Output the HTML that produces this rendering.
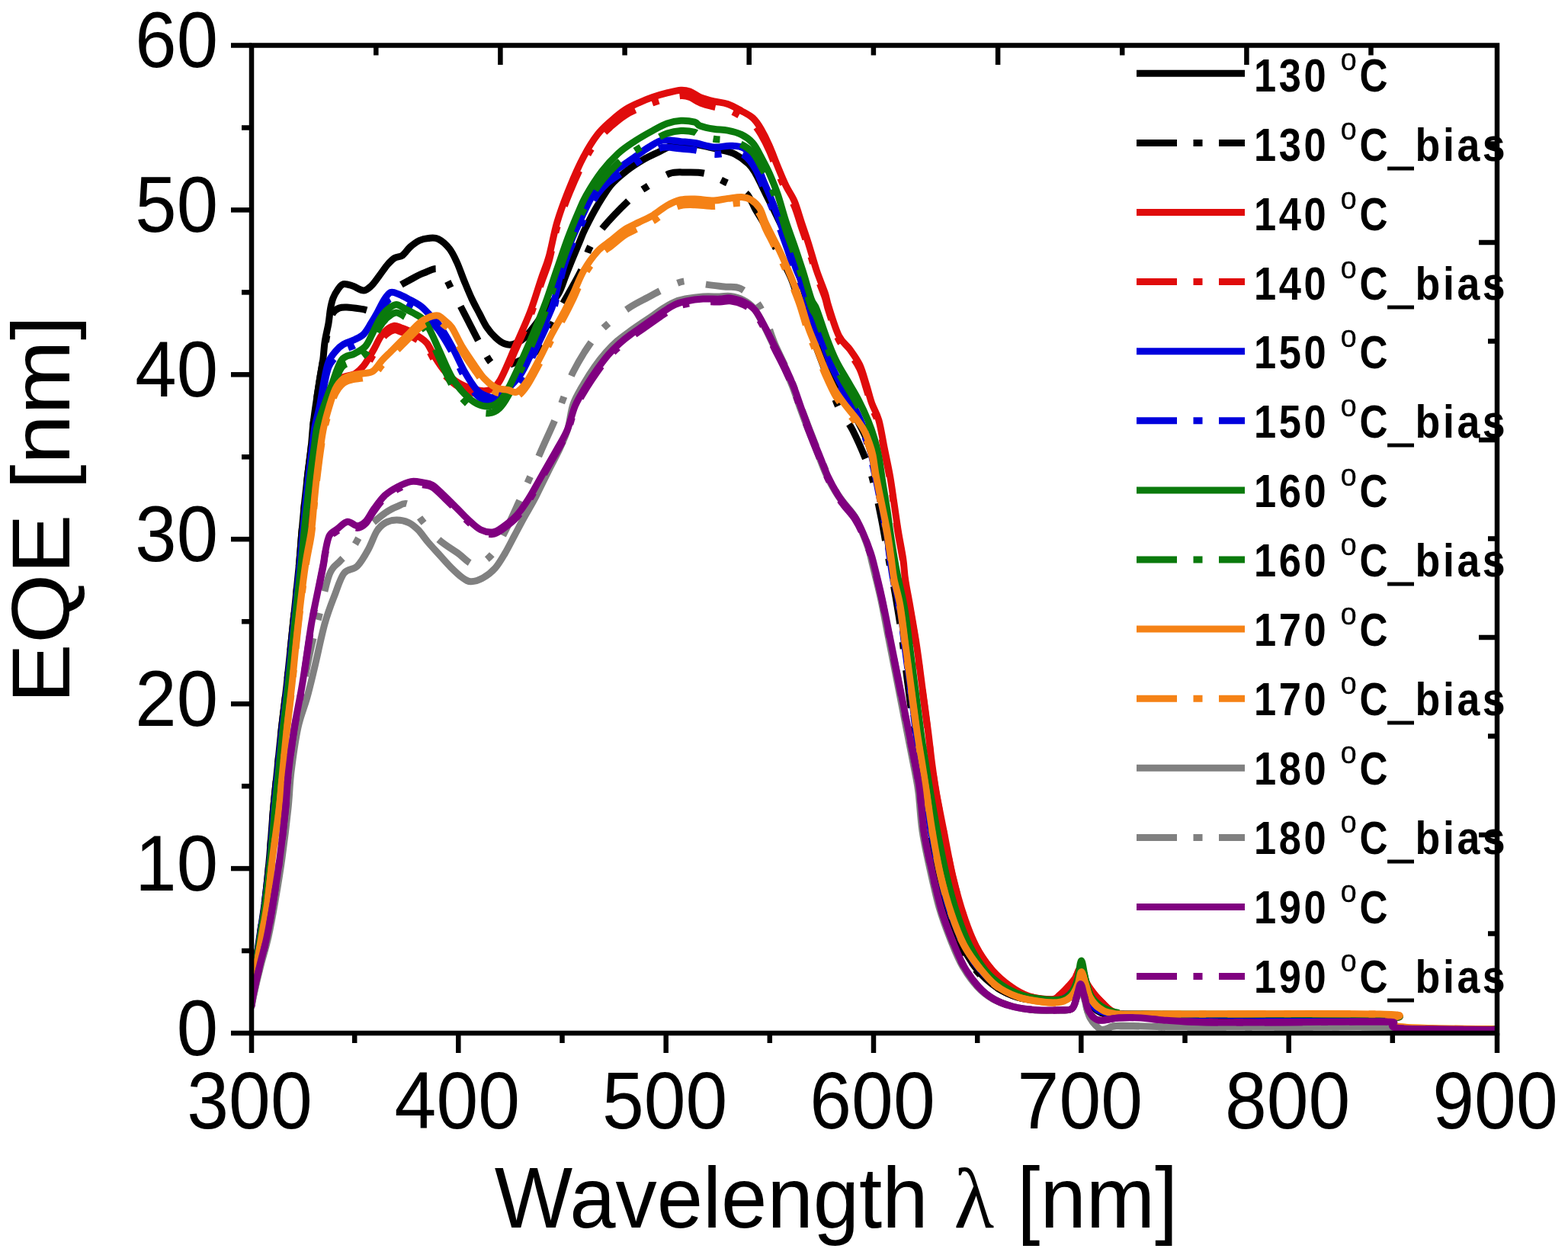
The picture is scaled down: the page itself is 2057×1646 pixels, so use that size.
<!DOCTYPE html>
<html><head><meta charset="utf-8"><title>EQE vs Wavelength</title>
<style>html,body{margin:0;padding:0;background:#fff;overflow:hidden}svg{display:block}</style>
</head><body>
<svg width="2057" height="1646" viewBox="0 0 2057 1646" font-family="'Liberation Sans', Arial, sans-serif">
<rect width="2057" height="1646" fill="#fff"/>
<defs><clipPath id="pa"><rect x="330.0" y="59.5" width="1634.0" height="1295.5"/></clipPath></defs>
<g id="curves" clip-path="url(#pa)" fill="none" stroke-linejoin="round" stroke-linecap="round"><path d="M330.0,1288.0 C330.8,1284.3 333.2,1275.8 335.0,1266.0 C336.8,1256.2 338.4,1243.0 340.5,1229.0 C342.6,1215.0 345.3,1199.3 347.5,1182.0 C349.7,1164.7 351.7,1145.0 353.5,1125.0 C355.3,1105.0 356.8,1080.8 358.5,1062.0 C360.2,1043.2 361.7,1030.0 363.5,1012.0 C365.3,994.0 367.3,973.5 369.5,954.0 C371.7,934.5 374.0,917.7 376.5,895.0 C379.0,872.3 381.8,843.8 384.5,818.0 C387.2,792.2 390.6,760.2 392.5,740.0 C394.4,719.8 394.8,710.3 396.0,697.0 C397.2,683.7 398.2,672.2 399.5,660.0 C400.8,647.8 402.1,636.0 403.5,624.0 C404.9,612.0 406.8,598.7 408.0,588.0 C409.2,577.3 409.5,569.2 410.5,560.0 C411.5,550.8 412.5,543.5 414.0,533.0 C415.5,522.5 417.9,507.2 419.5,497.0 C421.1,486.8 422.6,480.2 423.7,472.0 C424.8,463.8 425.0,456.0 426.2,448.0 C427.4,440.0 429.8,431.2 431.0,424.0 C432.2,416.8 432.5,410.5 433.5,405.0 C434.5,399.5 435.4,395.2 437.0,391.0 C438.6,386.8 440.8,383.1 443.0,380.0 C445.2,376.9 447.2,373.4 450.5,372.6 C453.8,371.8 458.2,373.6 462.6,375.0 C467.0,376.4 472.9,381.0 477.0,381.0 C481.1,381.0 483.7,378.0 487.0,375.0 C490.3,372.0 493.2,367.5 496.6,363.0 C500.0,358.5 504.2,352.1 507.6,348.0 C511.1,343.9 513.9,340.8 517.3,338.6 C520.7,336.4 524.5,337.4 528.0,335.0 C531.5,332.6 534.3,327.2 538.0,324.0 C541.7,320.8 546.0,317.4 550.0,315.5 C554.0,313.6 557.8,312.8 562.0,312.5 C566.2,312.2 570.4,311.2 575.0,313.5 C579.6,315.8 585.4,320.9 589.5,326.0 C593.6,331.1 596.1,336.8 599.4,344.0 C602.7,351.2 605.9,361.0 609.2,369.0 C612.5,377.0 615.7,384.9 619.0,392.0 C622.3,399.1 625.7,405.1 629.0,411.4 C632.3,417.6 635.3,424.3 638.8,429.5 C642.3,434.7 646.2,439.1 650.0,442.6 C653.8,446.2 657.9,449.3 661.7,450.8 C665.5,452.3 668.6,452.9 673.0,451.6 C677.4,450.3 683.0,447.4 688.0,443.0 C693.0,438.6 698.0,431.5 703.0,425.0 C708.0,418.5 713.0,410.7 718.0,404.0 C723.0,397.3 728.9,391.7 732.9,384.7 C736.9,377.7 739.0,369.6 742.0,362.0 C745.0,354.4 748.2,346.3 751.2,339.0 C754.2,331.7 757.3,324.4 760.0,318.0 C762.7,311.6 763.4,308.6 767.4,300.5 C771.4,292.4 778.0,279.3 783.8,269.6 C789.6,259.9 795.6,249.8 802.0,242.2 C808.4,234.6 815.1,229.5 822.1,224.0 C829.1,218.5 836.7,213.7 844.0,209.4 C851.3,205.1 859.2,201.8 865.9,198.4 C872.6,195.1 879.5,191.1 884.1,189.3 C888.7,187.5 888.9,187.6 893.2,187.5 C897.5,187.4 903.9,188.1 910.0,189.0 C916.1,189.9 924.1,191.7 930.0,193.0 C935.9,194.3 940.0,195.1 945.6,196.6 C951.2,198.1 957.7,199.0 963.8,202.1 C969.9,205.2 977.4,210.7 982.0,214.9 C986.6,219.2 988.2,222.6 991.2,227.6 C994.2,232.6 997.0,238.9 1000.0,245.0 C1003.0,251.1 1006.3,257.9 1009.4,264.1 C1012.5,270.3 1014.9,274.7 1018.5,282.3 C1022.1,289.9 1027.6,300.6 1031.3,309.7 C1035.0,318.8 1037.4,327.9 1040.4,337.0 C1043.4,346.1 1047.1,356.8 1049.5,364.4 C1051.9,372.0 1052.9,375.0 1055.0,382.6 C1057.1,390.2 1058.8,399.4 1062.0,410.0 C1065.2,420.6 1069.8,434.3 1074.0,446.0 C1078.2,457.7 1082.5,469.3 1087.0,480.0 C1091.5,490.7 1096.7,501.7 1101.0,510.0 C1105.3,518.3 1109.0,523.0 1113.0,530.0 C1117.0,537.0 1121.2,544.7 1125.0,552.0 C1128.8,559.3 1132.7,566.0 1136.0,574.0 C1139.3,582.0 1142.3,590.3 1145.0,600.0 C1147.7,609.7 1149.8,620.7 1152.0,632.0 C1154.2,643.3 1156.0,656.0 1158.0,668.0 C1160.0,680.0 1162.2,692.0 1164.0,704.0 C1165.8,716.0 1167.3,730.3 1169.0,740.0 C1170.7,749.7 1171.8,752.0 1174.0,762.0 C1176.2,772.0 1179.5,785.0 1182.0,800.0 C1184.5,815.0 1186.7,834.3 1189.0,852.0 C1191.3,869.7 1193.7,888.0 1196.0,906.0 C1198.3,924.0 1200.7,943.3 1203.0,960.0 C1205.3,976.7 1207.8,992.3 1210.0,1006.0 C1212.2,1019.7 1213.7,1027.7 1216.0,1042.0 C1218.3,1056.3 1221.3,1074.0 1224.0,1092.0 C1226.7,1110.0 1228.3,1132.0 1232.0,1150.0 C1235.7,1168.0 1241.0,1185.0 1246.0,1200.0 C1251.0,1215.0 1256.0,1228.0 1262.0,1240.0 C1268.0,1252.0 1274.7,1263.0 1282.0,1272.0 C1289.3,1281.0 1297.2,1288.0 1306.0,1294.0 C1314.8,1300.0 1324.3,1304.8 1335.0,1308.0 C1345.7,1311.2 1360.0,1312.3 1370.0,1313.0 C1380.0,1313.7 1388.3,1314.2 1395.0,1312.0 C1401.7,1309.8 1406.2,1305.3 1410.0,1300.0 C1413.8,1294.7 1415.5,1280.0 1418.0,1280.0 C1420.5,1280.0 1422.7,1293.7 1425.0,1300.0 C1427.3,1306.3 1427.8,1313.0 1432.0,1318.0 C1436.2,1323.0 1438.7,1327.5 1450.0,1330.0 C1461.3,1332.5 1466.7,1332.3 1500.0,1333.0 C1533.3,1333.7 1598.3,1333.8 1650.0,1334.0 C1701.7,1334.2 1780.8,1333.0 1810.0,1334.0 C1839.2,1335.0 1819.7,1337.5 1825.0,1340.0 C1830.3,1342.5 1818.8,1347.3 1842.0,1349.0 C1865.2,1350.7 1943.7,1349.8 1964.0,1350.0" stroke="#000000" stroke-width="9"/><path d="M330.0,1288.0 C330.8,1284.3 333.2,1275.8 335.0,1266.0 C336.8,1256.2 338.4,1243.0 340.5,1229.0 C342.6,1215.0 345.3,1199.3 347.5,1182.0 C349.7,1164.7 351.7,1145.0 353.5,1125.0 C355.3,1105.0 356.8,1080.8 358.5,1062.0 C360.2,1043.2 361.7,1030.0 363.5,1012.0 C365.3,994.0 367.3,973.5 369.5,954.0 C371.7,934.5 374.0,917.7 376.5,895.0 C379.0,872.3 381.8,843.8 384.5,818.0 C387.2,792.2 390.6,760.2 392.5,740.0 C394.4,719.8 394.8,710.3 396.0,697.0 C397.2,683.7 398.2,672.2 399.5,660.0 C400.8,647.8 402.1,636.0 403.5,624.0 C404.9,612.0 406.8,598.7 408.0,588.0 C409.2,577.3 409.5,569.2 410.5,560.0 C411.5,550.8 412.5,543.5 414.0,533.0 C415.5,522.5 417.8,507.5 419.5,497.0 C421.2,486.5 422.6,478.7 424.0,470.0 C425.4,461.3 426.7,452.5 428.0,445.0 C429.3,437.5 430.5,430.8 432.0,425.0 C433.5,419.2 434.8,413.5 437.0,410.0 C439.2,406.5 442.0,405.2 445.0,404.0 C448.0,402.8 450.0,402.8 455.0,403.0 C460.0,403.2 468.7,404.5 475.0,405.4 C481.3,406.3 488.0,410.2 493.0,408.5 C498.0,406.8 500.5,400.1 505.0,395.0 C509.5,389.9 514.7,382.5 520.0,378.0 C525.3,373.5 530.7,371.1 536.7,367.8 C542.7,364.5 549.3,360.3 556.0,358.0 C562.7,355.7 570.6,349.8 577.0,354.0 C583.4,358.2 589.1,373.9 594.5,383.5 C599.9,393.1 603.2,399.9 609.2,411.4 C615.2,422.9 624.5,441.5 630.5,452.4 C636.5,463.3 640.7,472.2 645.3,477.0 C649.9,481.8 653.5,481.0 658.0,481.0 C662.5,481.0 667.0,478.8 672.0,477.0 C677.0,475.2 682.8,472.7 688.0,470.0 C693.2,467.3 697.3,467.7 703.0,461.0 C708.7,454.3 716.5,439.7 722.0,430.0 C727.5,420.3 729.0,415.4 735.7,403.0 C742.4,390.6 755.8,368.3 762.0,355.5 C768.2,342.7 768.5,335.2 773.0,326.0 C777.5,316.8 780.2,311.4 789.3,300.5 C798.4,289.6 817.0,270.1 827.6,260.4 C838.2,250.7 844.5,247.7 853.0,242.2 C861.5,236.7 870.8,230.3 878.6,227.6 C886.4,224.9 892.2,226.0 900.0,226.0 C907.8,226.0 917.0,225.5 925.5,227.6 C934.0,229.7 942.2,234.3 951.0,238.6 C959.8,242.8 971.7,247.0 978.4,253.1 C985.1,259.2 987.1,268.0 991.2,275.0 C995.3,282.0 998.9,287.2 1003.0,295.0 C1007.1,302.8 1010.4,310.8 1016.0,322.0 C1021.6,333.2 1031.0,349.5 1036.7,362.5 C1042.4,375.5 1045.3,387.1 1050.0,400.0 C1054.7,412.9 1059.7,425.8 1065.0,440.0 C1070.3,454.2 1076.1,469.2 1082.0,485.0 C1087.9,500.8 1094.3,521.8 1100.4,535.0 C1106.5,548.2 1112.0,551.2 1118.5,564.0 C1125.0,576.8 1134.5,598.7 1139.5,612.0 C1144.5,625.3 1145.7,632.8 1148.4,644.0 C1151.2,655.2 1153.7,667.7 1156.0,679.0 C1158.3,690.3 1160.0,701.0 1162.0,712.0 C1164.0,723.0 1165.9,733.7 1168.0,745.0 C1170.1,756.3 1172.1,765.8 1174.5,780.0 C1176.9,794.2 1179.9,811.7 1182.5,830.0 C1185.1,848.3 1187.4,870.0 1190.0,890.0 C1192.6,910.0 1195.4,931.7 1198.0,950.0 C1200.6,968.3 1203.2,985.0 1205.5,1000.0 C1207.8,1015.0 1209.9,1025.0 1212.0,1040.0 C1214.1,1055.0 1215.0,1071.7 1218.0,1090.0 C1221.0,1108.3 1225.7,1131.7 1230.0,1150.0 C1234.3,1168.3 1239.0,1185.0 1244.0,1200.0 C1249.0,1215.0 1254.0,1228.0 1260.0,1240.0 C1266.0,1252.0 1272.5,1263.0 1280.0,1272.0 C1287.5,1281.0 1295.8,1288.0 1305.0,1294.0 C1314.2,1300.0 1324.2,1304.8 1335.0,1308.0 C1345.8,1311.2 1360.0,1312.3 1370.0,1313.0 C1380.0,1313.7 1388.3,1314.2 1395.0,1312.0 C1401.7,1309.8 1406.2,1305.0 1410.0,1300.0 C1413.8,1295.0 1415.5,1282.0 1418.0,1282.0 C1420.5,1282.0 1422.7,1294.0 1425.0,1300.0 C1427.3,1306.0 1427.8,1313.0 1432.0,1318.0 C1436.2,1323.0 1438.7,1327.3 1450.0,1330.0 C1461.3,1332.7 1466.7,1333.2 1500.0,1334.0 C1533.3,1334.8 1598.3,1334.8 1650.0,1335.0 C1701.7,1335.2 1780.8,1334.0 1810.0,1335.0 C1839.2,1336.0 1819.7,1338.7 1825.0,1341.0 C1830.3,1343.3 1818.8,1347.5 1842.0,1349.0 C1865.2,1350.5 1943.7,1349.8 1964.0,1350.0" stroke="#000000" stroke-width="9" stroke-dasharray="50 24 9 28" stroke-dashoffset="6" stroke-linecap="butt"/><path d="M330.0,1289.0 C331.0,1285.2 334.0,1276.0 336.0,1266.0 C338.0,1256.0 339.8,1243.0 342.0,1229.0 C344.2,1215.0 347.2,1199.3 349.5,1182.0 C351.8,1164.7 353.9,1145.0 356.0,1125.0 C358.1,1105.0 360.1,1080.8 362.0,1062.0 C363.9,1043.2 365.6,1030.0 367.5,1012.0 C369.4,994.0 371.3,973.5 373.5,954.0 C375.7,934.5 378.0,917.7 380.5,895.0 C383.0,872.3 385.8,843.8 388.5,818.0 C391.2,792.2 394.8,760.2 397.0,740.0 C399.2,719.8 400.5,710.3 402.0,697.0 C403.5,683.7 404.7,672.2 406.0,660.0 C407.3,647.8 408.5,636.0 410.0,624.0 C411.5,612.0 413.5,598.7 415.0,588.0 C416.5,577.3 417.3,569.2 419.0,560.0 C420.7,550.8 422.7,541.3 425.0,533.0 C427.3,524.7 429.7,516.0 433.0,510.0 C436.3,504.0 441.2,499.8 445.0,497.0 C448.8,494.2 452.5,494.2 456.0,493.0 C459.5,491.8 462.5,492.2 466.0,490.0 C469.5,487.8 473.3,484.6 477.2,479.6 C481.1,474.6 485.8,466.4 489.4,460.1 C493.0,453.8 496.1,446.5 499.1,441.9 C502.1,437.2 504.6,434.6 507.6,432.2 C510.6,429.8 514.3,427.7 517.3,427.3 C520.3,426.9 522.8,428.7 525.8,429.7 C528.8,430.7 531.5,431.4 535.5,433.4 C539.5,435.4 546.0,439.1 550.1,441.9 C554.2,444.7 556.7,445.8 560.0,450.0 C563.3,454.2 566.1,461.4 569.8,467.2 C573.5,473.0 577.3,479.5 582.0,485.0 C586.7,490.5 591.7,495.8 598.0,500.0 C604.3,504.2 613.0,508.0 620.0,510.0 C627.0,512.0 634.1,513.7 640.0,512.0 C645.9,510.3 649.1,509.8 655.2,500.0 C661.3,490.2 669.8,468.2 676.5,453.1 C683.2,438.0 689.8,424.0 695.4,409.4 C701.0,394.8 705.9,377.7 710.0,365.6 C714.1,353.5 716.5,349.4 720.0,337.0 C723.5,324.6 726.4,306.6 730.9,291.4 C735.4,276.2 741.5,260.2 747.3,245.9 C753.1,231.6 759.5,217.2 765.6,205.7 C771.7,194.1 777.7,184.5 783.8,176.6 C789.9,168.7 795.9,163.8 802.0,158.3 C808.1,152.8 814.2,147.8 820.3,143.8 C826.4,139.9 832.4,137.3 838.5,134.6 C844.6,131.8 850.6,129.4 856.7,127.3 C862.8,125.2 868.9,123.4 875.0,121.9 C881.1,120.4 888.2,118.5 893.2,118.2 C898.2,117.9 900.8,118.5 905.0,120.0 C909.2,121.5 913.0,125.2 918.2,127.3 C923.5,129.4 930.4,131.3 936.5,132.8 C942.6,134.3 948.6,134.4 954.7,136.5 C960.8,138.6 967.4,142.6 972.9,145.6 C978.4,148.6 983.2,150.8 987.5,154.7 C991.8,158.6 994.8,163.2 998.4,169.3 C1002.0,175.4 1005.8,183.0 1009.4,191.2 C1013.0,199.4 1016.6,209.7 1020.3,218.5 C1023.9,227.3 1027.6,236.4 1031.3,244.0 C1035.0,251.6 1038.9,256.2 1042.2,264.1 C1045.5,272.0 1048.3,282.3 1051.3,291.4 C1054.3,300.5 1057.1,308.2 1060.4,318.8 C1063.8,329.4 1067.8,344.3 1071.4,355.2 C1075.1,366.1 1079.7,376.6 1082.3,384.4 C1084.9,392.2 1084.0,392.7 1087.0,402.0 C1090.0,411.3 1095.7,430.8 1100.4,440.2 C1105.1,449.6 1110.4,452.0 1115.0,458.4 C1119.6,464.8 1124.1,470.6 1127.8,478.5 C1131.5,486.4 1134.2,497.4 1136.9,505.9 C1139.6,514.4 1141.1,521.8 1143.8,529.3 C1146.5,536.8 1150.2,541.5 1152.9,551.2 C1155.6,560.9 1157.8,575.5 1160.2,587.6 C1162.6,599.8 1165.4,612.0 1167.5,624.1 C1169.6,636.2 1171.2,648.4 1173.0,660.5 C1174.8,672.6 1176.4,684.8 1178.4,697.0 C1180.4,709.2 1183.3,723.0 1184.8,733.5 C1186.3,744.0 1186.1,749.8 1187.6,760.0 C1189.1,770.2 1191.2,779.8 1193.8,794.7 C1196.3,809.6 1200.2,831.2 1202.9,849.4 C1205.6,867.6 1207.8,885.9 1210.2,904.1 C1212.6,922.3 1215.4,942.1 1217.5,958.8 C1219.6,975.5 1221.2,990.9 1223.0,1004.4 C1224.8,1017.9 1225.9,1025.7 1228.4,1040.0 C1230.9,1054.3 1234.5,1071.7 1238.1,1090.1 C1241.7,1108.5 1245.8,1131.9 1250.2,1150.3 C1254.6,1168.7 1259.2,1185.4 1264.2,1200.4 C1269.2,1215.4 1274.2,1228.8 1280.2,1240.5 C1286.2,1252.2 1293.0,1261.9 1300.3,1270.6 C1307.6,1279.3 1315.9,1286.6 1324.3,1292.6 C1332.7,1298.6 1341.0,1303.7 1350.4,1306.7 C1359.8,1309.7 1373.8,1311.0 1380.5,1310.7 C1387.2,1310.4 1386.8,1307.7 1390.5,1304.7 C1394.2,1301.7 1399.2,1296.3 1402.5,1292.6 C1405.8,1288.9 1407.8,1286.7 1410.5,1282.6 C1413.2,1278.5 1416.2,1267.1 1418.6,1268.0 C1421.0,1268.9 1422.3,1282.2 1425.0,1288.0 C1427.7,1293.8 1431.5,1298.5 1435.0,1303.0 C1438.5,1307.5 1442.3,1311.3 1446.0,1315.0 C1449.7,1318.7 1452.7,1322.3 1457.0,1325.0 C1461.3,1327.7 1464.8,1329.8 1472.0,1331.0 C1479.2,1332.2 1443.7,1331.8 1500.0,1332.0 C1556.3,1332.2 1756.3,1331.0 1810.0,1332.0 C1863.7,1333.0 1817.0,1335.3 1822.0,1338.0 C1827.0,1340.7 1816.3,1346.0 1840.0,1348.0 C1863.7,1350.0 1943.3,1349.7 1964.0,1350.0" stroke="#e00c0c" stroke-width="9"/><path d="M330.0,1289.4 C331.0,1285.6 334.0,1276.5 336.0,1266.5 C338.0,1256.6 339.8,1243.7 342.0,1229.8 C344.2,1215.8 347.2,1200.3 349.5,1183.0 C351.8,1165.8 353.9,1146.3 356.0,1126.4 C358.1,1106.5 360.1,1082.5 362.0,1063.8 C363.9,1045.0 365.6,1032.0 367.5,1014.1 C369.4,996.2 371.3,975.8 373.5,956.4 C375.7,937.0 378.0,920.3 380.5,897.8 C383.0,875.2 385.8,846.9 388.5,821.2 C391.2,795.5 394.8,763.7 397.0,743.7 C399.2,723.6 400.5,714.2 402.0,700.9 C403.5,687.7 404.7,676.3 406.0,664.2 C407.3,652.1 408.5,640.3 410.0,628.4 C411.5,616.5 413.5,603.2 415.0,592.6 C416.5,582.0 417.3,573.9 419.0,564.8 C420.7,555.7 422.7,546.2 425.0,537.9 C427.3,529.6 429.7,521.0 433.0,515.1 C436.3,509.1 441.2,505.0 445.0,502.1 C448.8,499.3 452.5,499.3 456.0,498.2 C459.5,497.0 462.5,497.4 466.0,495.2 C469.5,493.0 473.3,489.8 477.2,484.9 C481.1,479.9 485.8,471.7 489.4,465.5 C493.0,459.2 496.1,452.0 499.1,447.4 C502.1,442.8 504.6,440.2 507.6,437.7 C510.6,435.3 514.3,433.3 517.3,432.9 C520.3,432.5 522.8,434.2 525.8,435.3 C528.8,436.3 531.5,436.9 535.5,438.9 C539.5,441.0 546.0,444.6 550.1,447.4 C554.2,450.1 556.7,451.2 560.0,455.4 C563.3,459.6 566.1,466.7 569.8,472.5 C573.5,478.3 577.3,484.8 582.0,490.2 C586.7,495.7 591.7,501.0 598.0,505.1 C604.3,509.3 613.0,513.1 620.0,515.1 C627.0,517.1 634.1,518.7 640.0,517.1 C645.9,515.4 649.1,514.9 655.2,505.1 C661.3,495.4 669.8,473.5 676.5,458.5 C683.2,443.5 689.8,429.6 695.4,415.1 C701.0,400.6 705.9,383.5 710.0,371.5 C714.1,359.5 716.5,355.4 720.0,343.1 C723.5,330.8 726.4,312.9 730.9,297.8 C735.4,282.7 741.5,266.8 747.3,252.6 C753.1,238.4 759.5,224.1 765.6,212.6 C771.7,201.1 777.7,191.5 783.8,183.7 C789.9,175.8 795.9,170.9 802.0,165.5 C808.1,160.0 814.2,155.0 820.3,151.1 C826.4,147.1 832.4,144.7 838.5,141.9 C844.6,139.2 850.6,136.8 856.7,134.7 C862.8,132.6 868.9,130.8 875.0,129.3 C881.1,127.8 888.2,125.9 893.2,125.6 C898.2,125.3 900.8,125.9 905.0,127.4 C909.2,128.9 913.0,132.5 918.2,134.7 C923.5,136.8 930.4,138.6 936.5,140.1 C942.6,141.7 948.6,141.7 954.7,143.8 C960.8,145.9 967.4,149.8 972.9,152.9 C978.4,155.9 983.2,158.0 987.5,161.9 C991.8,165.8 994.8,170.4 998.4,176.4 C1002.0,182.5 1005.8,190.0 1009.4,198.2 C1013.0,206.3 1016.6,216.6 1020.3,225.3 C1023.9,234.1 1027.6,243.1 1031.3,250.7 C1035.0,258.2 1038.9,262.8 1042.2,270.6 C1045.5,278.5 1048.3,288.7 1051.3,297.8 C1054.3,306.8 1057.1,314.4 1060.4,325.0 C1063.8,335.6 1067.8,350.3 1071.4,361.2 C1075.1,372.1 1079.7,382.5 1082.3,390.2 C1084.9,398.0 1084.0,398.5 1087.0,407.7 C1090.0,417.0 1095.7,436.3 1100.4,445.7 C1105.1,455.0 1110.4,457.4 1115.0,463.8 C1119.6,470.1 1124.1,475.9 1127.8,483.8 C1131.5,491.6 1134.2,502.6 1136.9,511.0 C1139.6,519.4 1141.1,526.7 1143.8,534.3 C1146.5,541.8 1150.2,546.4 1152.9,556.0 C1155.6,565.7 1157.8,580.1 1160.2,592.2 C1162.6,604.3 1165.4,616.4 1167.5,628.5 C1169.6,640.6 1171.2,652.6 1173.0,664.7 C1174.8,676.7 1176.4,688.9 1178.4,700.9 C1180.4,713.0 1183.3,726.8 1184.8,737.2 C1186.3,747.7 1186.1,753.4 1187.6,763.6 C1189.1,773.7 1191.2,783.3 1193.8,798.1 C1196.3,812.9 1200.2,834.3 1202.9,852.4 C1205.6,870.6 1207.8,888.7 1210.2,906.8 C1212.6,924.9 1215.4,944.6 1217.5,961.2 C1219.6,977.8 1221.2,993.1 1223.0,1006.5 C1224.8,1020.0 1225.9,1027.7 1228.4,1041.9 C1230.9,1056.1 1234.5,1073.4 1238.1,1091.7 C1241.7,1110.0 1245.8,1133.3 1250.2,1151.5 C1254.6,1169.8 1259.2,1186.4 1264.2,1201.3 C1269.2,1216.3 1274.2,1229.6 1280.2,1241.2 C1286.2,1252.8 1293.0,1262.5 1300.3,1271.1 C1307.6,1279.7 1315.9,1287.0 1324.3,1293.0 C1332.7,1299.0 1341.0,1304.0 1350.4,1307.0 C1359.8,1310.0 1373.8,1311.3 1380.5,1311.0 C1387.2,1310.6 1386.8,1308.0 1390.5,1305.0 C1394.2,1302.0 1399.2,1296.6 1402.5,1293.0 C1405.8,1289.3 1407.8,1287.1 1410.5,1283.0 C1413.2,1279.0 1416.2,1267.6 1418.6,1268.5 C1421.0,1269.4 1422.3,1282.6 1425.0,1288.4 C1427.7,1294.2 1431.5,1298.8 1435.0,1303.3 C1438.5,1307.8 1442.3,1311.6 1446.0,1315.2 C1449.7,1318.9 1452.7,1322.5 1457.0,1325.2 C1461.3,1327.8 1464.8,1330.0 1472.0,1331.1 C1479.2,1332.3 1443.7,1332.0 1500.0,1332.1 C1556.3,1332.3 1756.3,1331.1 1810.0,1332.1 C1863.7,1333.1 1817.0,1335.5 1822.0,1338.1 C1827.0,1340.8 1816.3,1346.1 1840.0,1348.0 C1863.7,1350.0 1943.3,1349.7 1964.0,1350.0" stroke="#e00c0c" stroke-width="9" stroke-dasharray="50 24 9 28" stroke-dashoffset="0" stroke-linecap="butt"/><path d="M330.0,1288.0 C330.9,1284.3 333.7,1275.8 335.5,1266.0 C337.3,1256.2 338.9,1243.0 341.0,1229.0 C343.1,1215.0 345.8,1199.3 348.0,1182.0 C350.2,1164.7 352.6,1145.0 354.5,1125.0 C356.4,1105.0 357.8,1080.8 359.5,1062.0 C361.2,1043.2 362.7,1030.0 364.5,1012.0 C366.3,994.0 368.3,973.5 370.5,954.0 C372.7,934.5 375.0,917.7 377.5,895.0 C380.0,872.3 382.8,843.8 385.5,818.0 C388.2,792.2 391.5,760.2 393.5,740.0 C395.5,719.8 396.2,710.3 397.5,697.0 C398.8,683.7 399.8,672.2 401.0,660.0 C402.2,647.8 403.6,636.0 405.0,624.0 C406.4,612.0 408.2,598.7 409.5,588.0 C410.8,577.3 411.4,569.2 413.0,560.0 C414.6,550.8 417.3,543.0 419.3,533.0 C421.3,523.0 423.1,509.7 425.0,500.0 C426.9,490.3 428.4,481.3 431.0,474.7 C433.6,468.1 437.6,464.0 440.8,460.1 C444.1,456.2 446.4,454.0 450.5,451.6 C454.6,449.2 460.7,447.7 465.1,445.5 C469.6,443.3 473.6,441.8 477.2,438.2 C480.8,434.6 483.9,428.5 486.9,423.7 C489.9,418.9 492.6,414.2 495.4,409.1 C498.2,404.0 501.1,397.6 503.9,393.3 C506.7,389.1 509.1,384.8 512.4,383.6 C515.6,382.4 519.1,384.4 523.4,386.0 C527.7,387.6 533.1,390.7 538.0,393.3 C542.9,395.9 548.5,398.8 552.5,401.8 C556.5,404.8 558.5,407.6 562.3,411.5 C566.0,415.4 569.9,417.9 575.0,425.0 C580.1,432.1 587.1,443.8 592.8,454.1 C598.5,464.4 603.7,477.3 609.2,486.9 C614.7,496.5 620.7,506.0 625.6,511.5 C630.5,517.0 634.4,518.1 638.8,519.7 C643.2,521.3 647.5,522.6 652.0,521.0 C656.5,519.4 660.7,515.2 666.0,510.0 C671.3,504.8 678.9,496.8 683.8,489.6 C688.7,482.4 691.8,474.3 695.5,466.7 C699.2,459.1 702.5,451.6 706.0,444.0 C709.5,436.4 713.0,429.4 716.5,421.2 C720.0,413.0 723.0,408.7 727.0,395.0 C731.0,381.3 735.0,356.3 740.5,339.0 C746.0,321.7 753.5,306.0 760.1,291.4 C766.7,276.8 774.1,261.3 780.2,251.3 C786.3,241.3 790.8,236.8 796.6,231.3 C802.4,225.8 808.7,222.8 814.8,218.5 C820.9,214.2 826.9,209.9 833.0,205.7 C839.1,201.4 845.2,196.6 851.3,193.0 C857.4,189.4 862.5,185.1 869.5,183.9 C876.5,182.7 886.2,185.1 893.2,185.7 C900.2,186.3 904.2,186.3 911.4,187.5 C918.6,188.7 928.7,192.4 936.5,193.0 C944.3,193.6 951.6,190.9 958.3,191.2 C965.0,191.5 971.1,191.2 976.6,194.8 C982.1,198.4 987.0,205.7 991.2,213.0 C995.5,220.3 998.5,230.1 1002.1,238.6 C1005.7,247.1 1009.4,255.0 1013.0,264.1 C1016.6,273.2 1020.6,284.2 1024.0,293.3 C1027.3,302.4 1029.8,309.1 1033.1,318.8 C1036.4,328.5 1040.7,342.5 1044.0,351.6 C1047.3,360.7 1050.4,365.4 1053.1,373.5 C1055.8,381.6 1058.6,394.6 1060.4,400.0 C1062.2,405.4 1061.3,398.6 1064.0,405.6 C1066.7,412.6 1072.5,430.1 1076.7,442.0 C1081.0,453.9 1084.9,466.1 1089.5,476.7 C1094.1,487.3 1099.8,498.0 1104.1,505.9 C1108.3,513.8 1111.3,517.6 1115.0,524.1 C1118.7,530.6 1122.5,537.4 1126.0,545.0 C1129.5,552.6 1133.0,560.8 1136.0,570.0 C1139.0,579.2 1141.5,589.7 1144.0,600.0 C1146.5,610.3 1148.7,620.7 1151.0,632.0 C1153.3,643.3 1155.8,656.2 1158.0,668.0 C1160.2,679.8 1162.2,691.3 1164.0,703.0 C1165.8,714.7 1167.5,728.2 1169.0,738.0 C1170.5,747.8 1171.0,751.7 1173.0,762.0 C1175.0,772.3 1178.5,785.0 1181.0,800.0 C1183.5,815.0 1185.7,834.3 1188.0,852.0 C1190.3,869.7 1192.7,888.0 1195.0,906.0 C1197.3,924.0 1199.7,943.3 1202.0,960.0 C1204.3,976.7 1206.8,992.3 1209.0,1006.0 C1211.2,1019.7 1212.8,1027.7 1215.0,1042.0 C1217.2,1056.3 1218.8,1074.0 1222.0,1092.0 C1225.2,1110.0 1229.7,1132.0 1234.0,1150.0 C1238.3,1168.0 1242.8,1185.0 1248.0,1200.0 C1253.2,1215.0 1258.8,1228.3 1265.0,1240.0 C1271.2,1251.7 1277.8,1261.3 1285.0,1270.0 C1292.2,1278.7 1299.5,1286.0 1308.0,1292.0 C1316.5,1298.0 1325.7,1302.7 1336.0,1306.0 C1346.3,1309.3 1360.2,1311.3 1370.0,1312.0 C1379.8,1312.7 1388.3,1312.7 1395.0,1310.0 C1401.7,1307.3 1406.2,1301.8 1410.0,1296.0 C1413.8,1290.2 1415.5,1274.7 1418.0,1275.0 C1420.5,1275.3 1422.7,1291.2 1425.0,1298.0 C1427.3,1304.8 1427.8,1311.0 1432.0,1316.0 C1436.2,1321.0 1438.7,1325.7 1450.0,1328.0 C1461.3,1330.3 1466.7,1329.3 1500.0,1330.0 C1533.3,1330.7 1598.3,1331.5 1650.0,1332.0 C1701.7,1332.5 1780.8,1331.7 1810.0,1333.0 C1839.2,1334.3 1819.7,1337.3 1825.0,1340.0 C1830.3,1342.7 1818.8,1347.3 1842.0,1349.0 C1865.2,1350.7 1943.7,1349.8 1964.0,1350.0" stroke="#0000dd" stroke-width="9"/><path d="M330.0,1288.5 C330.9,1284.9 333.7,1276.5 335.5,1266.7 C337.3,1257.0 338.9,1243.9 341.0,1230.0 C343.1,1216.1 345.8,1200.6 348.0,1183.4 C350.2,1166.2 352.6,1146.7 354.5,1126.8 C356.4,1107.0 357.8,1083.0 359.5,1064.3 C361.2,1045.7 362.7,1032.6 364.5,1014.7 C366.3,996.9 368.3,976.6 370.5,957.2 C372.7,937.9 375.0,921.2 377.5,898.7 C380.0,876.2 382.8,847.9 385.5,822.3 C388.2,796.7 391.5,764.9 393.5,744.9 C395.5,724.9 396.2,715.5 397.5,702.3 C398.8,689.0 399.8,677.6 401.0,665.6 C402.2,653.5 403.6,641.8 405.0,629.8 C406.4,617.9 408.2,604.7 409.5,594.1 C410.8,583.6 411.4,575.5 413.0,566.4 C414.6,557.3 417.3,549.5 419.3,539.6 C421.3,529.7 423.1,516.5 425.0,506.8 C426.9,497.2 428.4,488.3 431.0,481.7 C433.6,475.1 437.6,471.1 440.8,467.3 C444.1,463.4 446.4,461.2 450.5,458.8 C454.6,456.4 460.7,455.0 465.1,452.8 C469.6,450.6 473.6,449.1 477.2,445.5 C480.8,441.9 483.9,436.0 486.9,431.2 C489.9,426.3 492.6,421.7 495.4,416.7 C498.2,411.6 501.1,405.2 503.9,401.0 C506.7,396.8 509.1,392.6 512.4,391.4 C515.6,390.2 519.1,392.1 523.4,393.8 C527.7,395.4 533.1,398.4 538.0,401.0 C542.9,403.6 548.5,406.4 552.5,409.4 C556.5,412.4 558.5,415.2 562.3,419.0 C566.0,422.9 569.9,425.4 575.0,432.4 C580.1,439.5 587.1,451.1 592.8,461.3 C598.5,471.5 603.7,484.4 609.2,493.8 C614.7,503.3 620.7,512.8 625.6,518.2 C630.5,523.7 634.4,524.8 638.8,526.4 C643.2,528.0 647.5,529.3 652.0,527.7 C656.5,526.1 660.7,522.0 666.0,516.8 C671.3,511.6 678.9,503.7 683.8,496.5 C688.7,489.4 691.8,481.3 695.5,473.8 C699.2,466.3 702.5,458.8 706.0,451.3 C709.5,443.8 713.0,436.8 716.5,428.7 C720.0,420.6 723.0,416.3 727.0,402.7 C731.0,389.1 735.0,364.3 740.5,347.1 C746.0,330.0 753.5,314.4 760.1,299.9 C766.7,285.4 774.1,270.1 780.2,260.1 C786.3,250.2 790.8,245.7 796.6,240.3 C802.4,234.9 808.7,231.8 814.8,227.6 C820.9,223.4 826.9,219.1 833.0,214.9 C839.1,210.7 845.2,205.9 851.3,202.3 C857.4,198.7 862.5,194.5 869.5,193.3 C876.5,192.1 886.2,194.5 893.2,195.1 C900.2,195.6 904.2,195.6 911.4,196.8 C918.6,198.0 928.7,201.7 936.5,202.3 C944.3,202.9 951.6,200.2 958.3,200.5 C965.0,200.8 971.1,200.5 976.6,204.1 C982.1,207.7 987.0,214.9 991.2,222.1 C995.5,229.4 998.5,239.1 1002.1,247.5 C1005.7,256.0 1009.4,263.8 1013.0,272.8 C1016.6,281.9 1020.6,292.7 1024.0,301.8 C1027.3,310.8 1029.8,317.5 1033.1,327.1 C1036.4,336.7 1040.7,350.6 1044.0,359.6 C1047.3,368.7 1050.4,373.3 1053.1,381.4 C1055.8,389.4 1058.6,402.3 1060.4,407.6 C1062.2,412.9 1061.3,406.3 1064.0,413.2 C1066.7,420.1 1072.5,437.5 1076.7,449.3 C1081.0,461.1 1084.9,473.2 1089.5,483.7 C1094.1,494.3 1099.8,504.9 1104.1,512.7 C1108.3,520.5 1111.3,524.3 1115.0,530.7 C1118.7,537.2 1122.5,543.9 1126.0,551.5 C1129.5,559.1 1133.0,567.2 1136.0,576.3 C1139.0,585.4 1141.5,595.8 1144.0,606.0 C1146.5,616.3 1148.7,626.5 1151.0,637.8 C1153.3,649.0 1155.8,661.8 1158.0,673.5 C1160.2,685.2 1162.2,696.6 1164.0,708.2 C1165.8,719.8 1167.5,733.2 1169.0,742.9 C1170.5,752.7 1171.0,756.5 1173.0,766.7 C1175.0,777.0 1178.5,789.6 1181.0,804.4 C1183.5,819.3 1185.7,838.5 1188.0,856.0 C1190.3,873.5 1192.7,891.7 1195.0,909.6 C1197.3,927.4 1199.7,946.6 1202.0,963.2 C1204.3,979.7 1206.8,995.2 1209.0,1008.8 C1211.2,1022.3 1212.8,1030.3 1215.0,1044.5 C1217.2,1058.7 1218.8,1076.2 1222.0,1094.1 C1225.2,1112.0 1229.7,1133.8 1234.0,1151.6 C1238.3,1169.5 1242.8,1186.4 1248.0,1201.2 C1253.2,1216.1 1258.8,1229.3 1265.0,1240.9 C1271.2,1252.5 1277.8,1262.1 1285.0,1270.7 C1292.2,1279.3 1299.5,1286.6 1308.0,1292.5 C1316.5,1298.5 1325.7,1303.1 1336.0,1306.4 C1346.3,1309.7 1360.2,1311.7 1370.0,1312.3 C1379.8,1313.0 1388.3,1313.0 1395.0,1310.4 C1401.7,1307.7 1406.2,1302.3 1410.0,1296.5 C1413.8,1290.7 1415.5,1275.3 1418.0,1275.6 C1420.5,1276.0 1422.7,1291.7 1425.0,1298.5 C1427.3,1305.2 1427.8,1311.4 1432.0,1316.3 C1436.2,1321.3 1438.7,1325.9 1450.0,1328.2 C1461.3,1330.5 1466.7,1329.5 1500.0,1330.2 C1533.3,1330.9 1598.3,1331.7 1650.0,1332.2 C1701.7,1332.7 1780.8,1331.9 1810.0,1333.2 C1839.2,1334.5 1819.7,1337.5 1825.0,1340.1 C1830.3,1342.8 1818.8,1347.4 1842.0,1349.0 C1865.2,1350.7 1943.7,1349.9 1964.0,1350.0" stroke="#0000dd" stroke-width="9" stroke-dasharray="50 24 9 28" stroke-dashoffset="0" stroke-linecap="butt"/><path d="M330.0,1289.0 C330.9,1285.2 333.6,1276.0 335.5,1266.0 C337.4,1256.0 339.3,1243.0 341.5,1229.0 C343.7,1215.0 346.2,1199.3 348.5,1182.0 C350.8,1164.7 353.0,1145.0 355.0,1125.0 C357.0,1105.0 358.8,1080.8 360.5,1062.0 C362.2,1043.2 363.7,1030.0 365.5,1012.0 C367.3,994.0 369.3,973.5 371.5,954.0 C373.7,934.5 376.0,917.7 378.5,895.0 C381.0,872.3 383.8,843.8 386.5,818.0 C389.2,792.2 392.9,760.2 395.0,740.0 C397.1,719.8 397.7,710.3 399.0,697.0 C400.3,683.7 401.7,672.2 403.0,660.0 C404.3,647.8 405.5,636.0 407.0,624.0 C408.5,612.0 410.5,598.7 412.0,588.0 C413.5,577.3 413.9,569.2 416.0,560.0 C418.1,550.8 421.6,542.2 424.8,533.0 C428.0,523.8 431.1,515.1 435.0,505.0 C438.9,494.9 443.0,479.2 448.0,472.3 C453.0,465.4 459.8,466.9 465.1,463.8 C470.4,460.8 475.6,458.7 479.6,454.0 C483.7,449.3 486.3,441.7 489.4,435.8 C492.4,429.9 494.9,423.7 497.9,418.8 C500.9,413.9 504.0,409.8 507.6,406.6 C511.2,403.4 515.7,399.6 519.7,399.4 C523.8,399.2 527.9,403.4 531.9,405.4 C535.9,407.4 540.0,409.1 544.0,411.5 C548.0,413.9 552.5,415.8 556.2,420.0 C559.9,424.2 562.6,430.3 566.0,437.0 C569.4,443.7 571.9,450.3 576.4,460.0 C580.9,469.7 587.3,485.7 592.8,495.1 C598.3,504.5 603.7,510.7 609.2,516.4 C614.7,522.1 620.1,526.8 625.6,529.5 C631.1,532.2 637.1,533.3 642.0,532.8 C646.9,532.3 651.1,530.1 655.2,526.3 C659.3,522.5 662.0,518.4 666.6,509.9 C671.2,501.4 677.6,487.4 683.1,475.4 C688.6,463.4 694.0,450.8 699.5,437.7 C705.0,424.6 710.8,410.4 715.9,396.6 C721.0,382.8 725.1,369.1 730.0,355.0 C734.9,340.9 740.3,324.5 745.0,312.0 C749.7,299.5 754.0,289.3 758.0,280.0 C762.0,270.7 764.0,265.2 769.2,256.0 C774.4,246.8 782.3,234.2 789.3,225.0 C796.3,215.8 803.9,207.7 811.2,201.0 C818.5,194.3 825.4,190.0 833.0,185.0 C840.6,180.0 849.7,174.9 856.7,171.1 C863.7,167.3 868.9,164.1 875.0,162.0 C881.1,159.9 887.1,158.6 893.2,158.3 C899.3,158.0 907.2,159.1 911.4,160.2 C915.6,161.3 914.0,163.5 918.2,165.0 C922.4,166.5 930.4,168.3 936.5,169.3 C942.6,170.3 948.6,169.9 954.7,171.1 C960.8,172.3 967.4,173.9 972.9,176.6 C978.4,179.3 983.2,182.7 987.5,187.5 C991.8,192.3 994.8,199.0 998.4,205.7 C1002.0,212.4 1005.8,219.4 1009.4,227.6 C1013.0,235.8 1016.6,244.4 1020.3,255.0 C1023.9,265.6 1027.6,280.2 1031.3,291.4 C1035.0,302.6 1038.6,311.8 1042.2,322.4 C1045.8,333.0 1049.4,343.6 1053.1,355.2 C1056.8,366.8 1061.1,383.3 1064.1,391.7 C1067.1,400.1 1068.0,397.2 1071.3,405.6 C1074.6,414.0 1079.8,430.8 1084.0,442.0 C1088.2,453.2 1092.2,463.6 1096.8,473.0 C1101.4,482.4 1106.5,490.1 1111.4,498.6 C1116.3,507.1 1121.5,515.3 1126.0,524.1 C1130.5,532.9 1135.2,542.9 1138.7,551.4 C1142.2,559.9 1144.6,566.9 1147.0,575.0 C1149.4,583.1 1151.2,590.3 1153.0,600.0 C1154.8,609.7 1156.2,621.3 1158.0,633.0 C1159.8,644.7 1162.2,657.8 1164.0,670.0 C1165.8,682.2 1167.2,694.0 1169.0,706.0 C1170.8,718.0 1173.3,732.7 1175.0,742.0 C1176.7,751.3 1177.0,752.3 1179.0,762.0 C1181.0,771.7 1184.5,785.0 1187.0,800.0 C1189.5,815.0 1191.7,834.3 1194.0,852.0 C1196.3,869.7 1198.7,888.0 1201.0,906.0 C1203.3,924.0 1205.7,943.3 1208.0,960.0 C1210.3,976.7 1212.8,992.3 1215.0,1006.0 C1217.2,1019.7 1218.5,1027.7 1221.0,1042.0 C1223.5,1056.3 1226.5,1074.0 1230.0,1092.0 C1233.5,1110.0 1237.7,1132.0 1242.0,1150.0 C1246.3,1168.0 1251.0,1185.0 1256.0,1200.0 C1261.0,1215.0 1266.0,1228.0 1272.0,1240.0 C1278.0,1252.0 1285.0,1263.3 1292.0,1272.0 C1299.0,1280.7 1306.0,1286.5 1314.0,1292.0 C1322.0,1297.5 1330.3,1301.8 1340.0,1305.0 C1349.7,1308.2 1362.8,1310.2 1372.0,1311.0 C1381.2,1311.8 1389.2,1311.8 1395.0,1310.0 C1400.8,1308.2 1403.8,1304.5 1407.0,1300.0 C1410.2,1295.5 1412.1,1289.7 1414.0,1283.0 C1415.9,1276.3 1416.9,1259.8 1418.6,1260.0 C1420.3,1260.2 1421.9,1276.3 1424.0,1284.0 C1426.1,1291.7 1427.5,1300.0 1431.0,1306.0 C1434.5,1312.0 1439.3,1316.3 1445.0,1320.0 C1450.7,1323.7 1455.8,1326.3 1465.0,1328.0 C1474.2,1329.7 1442.5,1329.5 1500.0,1330.0 C1557.5,1330.5 1756.3,1329.7 1810.0,1331.0 C1863.7,1332.3 1817.0,1335.2 1822.0,1338.0 C1827.0,1340.8 1816.3,1346.0 1840.0,1348.0 C1863.7,1350.0 1943.3,1349.7 1964.0,1350.0" stroke="#0a7a0c" stroke-width="9"/><path d="M330.0,1289.7 C330.9,1285.9 333.6,1276.9 335.5,1267.0 C337.4,1257.1 339.3,1244.2 341.5,1230.4 C343.7,1216.5 346.2,1201.0 348.5,1183.9 C350.8,1166.8 353.0,1147.3 355.0,1127.5 C357.0,1107.8 358.8,1083.8 360.5,1065.2 C362.2,1046.6 363.7,1033.6 365.5,1015.8 C367.3,998.0 369.3,977.7 371.5,958.4 C373.7,939.1 376.0,922.5 378.5,900.1 C381.0,877.6 383.8,849.5 386.5,823.9 C389.2,798.4 392.9,766.7 395.0,746.8 C397.1,726.8 397.7,717.4 399.0,704.2 C400.3,691.1 401.7,679.7 403.0,667.6 C404.3,655.6 405.5,643.9 407.0,632.0 C408.5,620.2 410.5,607.0 412.0,596.4 C413.5,585.9 413.9,577.8 416.0,568.7 C418.1,559.7 421.6,551.1 424.8,542.0 C428.0,533.0 431.1,524.4 435.0,514.4 C438.9,504.3 443.0,488.8 448.0,482.0 C453.0,475.2 459.8,476.6 465.1,473.6 C470.4,470.6 475.6,468.5 479.6,463.9 C483.7,459.3 486.3,451.7 489.4,445.9 C492.4,440.1 494.9,433.9 497.9,429.1 C500.9,424.3 504.0,420.2 507.6,417.0 C511.2,413.8 515.7,410.1 519.7,409.9 C523.8,409.7 527.9,413.9 531.9,415.8 C535.9,417.8 540.0,419.5 544.0,421.9 C548.0,424.3 552.5,426.1 556.2,430.3 C559.9,434.5 562.6,440.5 566.0,447.1 C569.4,453.7 571.9,460.3 576.4,469.8 C580.9,479.4 587.3,495.3 592.8,504.6 C598.3,513.9 603.7,520.0 609.2,525.6 C614.7,531.3 620.1,535.9 625.6,538.6 C631.1,541.3 637.1,542.4 642.0,541.8 C646.9,541.3 651.1,539.2 655.2,535.4 C659.3,531.6 662.0,527.6 666.6,519.2 C671.2,510.8 677.6,497.0 683.1,485.1 C688.6,473.2 694.0,460.8 699.5,447.8 C705.0,434.8 710.8,420.8 715.9,407.1 C721.0,393.5 725.1,379.9 730.0,366.0 C734.9,352.1 740.3,335.8 745.0,323.5 C749.7,311.1 754.0,301.1 758.0,291.8 C762.0,282.6 764.0,277.2 769.2,268.1 C774.4,259.0 782.3,246.5 789.3,237.4 C796.3,228.4 803.9,220.3 811.2,213.7 C818.5,207.1 825.4,202.8 833.0,197.9 C840.6,192.9 849.7,187.9 856.7,184.1 C863.7,180.3 868.9,177.2 875.0,175.1 C881.1,173.0 887.1,171.8 893.2,171.5 C899.3,171.2 907.2,172.2 911.4,173.3 C915.6,174.4 914.0,176.6 918.2,178.1 C922.4,179.6 930.4,181.3 936.5,182.3 C942.6,183.3 948.6,182.9 954.7,184.1 C960.8,185.3 967.4,186.9 972.9,189.6 C978.4,192.3 983.2,195.5 987.5,200.3 C991.8,205.1 994.8,211.7 998.4,218.3 C1002.0,225.0 1005.8,231.9 1009.4,240.0 C1013.0,248.1 1016.6,256.6 1020.3,267.1 C1023.9,277.6 1027.6,292.0 1031.3,303.1 C1035.0,314.2 1038.6,323.2 1042.2,333.8 C1045.8,344.3 1049.4,354.8 1053.1,366.2 C1056.8,377.6 1061.1,394.0 1064.1,402.3 C1067.1,410.6 1068.0,407.8 1071.3,416.0 C1074.6,424.3 1079.8,440.9 1084.0,452.0 C1088.2,463.2 1092.2,473.4 1096.8,482.7 C1101.4,492.0 1106.5,499.6 1111.4,508.0 C1116.3,516.4 1121.5,524.5 1126.0,533.2 C1130.5,541.9 1135.2,551.8 1138.7,560.2 C1142.2,568.6 1144.6,575.6 1147.0,583.6 C1149.4,591.6 1151.2,598.7 1153.0,608.3 C1154.8,617.9 1156.2,629.4 1158.0,640.9 C1159.8,652.5 1162.2,665.5 1164.0,677.5 C1165.8,689.6 1167.2,701.3 1169.0,713.1 C1170.8,725.0 1173.3,739.5 1175.0,748.7 C1176.7,758.0 1177.0,759.0 1179.0,768.5 C1181.0,778.1 1184.5,791.3 1187.0,806.1 C1189.5,820.9 1191.7,840.1 1194.0,857.5 C1196.3,875.0 1198.7,893.1 1201.0,910.9 C1203.3,928.7 1205.7,947.9 1208.0,964.3 C1210.3,980.8 1212.8,996.3 1215.0,1009.8 C1217.2,1023.4 1218.5,1031.3 1221.0,1045.4 C1223.5,1059.6 1226.5,1077.1 1230.0,1094.9 C1233.5,1112.7 1237.7,1134.5 1242.0,1152.3 C1246.3,1170.1 1251.0,1186.9 1256.0,1201.7 C1261.0,1216.5 1266.0,1229.4 1272.0,1241.3 C1278.0,1253.1 1285.0,1264.3 1292.0,1272.9 C1299.0,1281.5 1306.0,1287.3 1314.0,1292.7 C1322.0,1298.1 1330.3,1302.4 1340.0,1305.5 C1349.7,1308.7 1362.8,1310.7 1372.0,1311.5 C1381.2,1312.3 1389.2,1312.3 1395.0,1310.5 C1400.8,1308.7 1403.8,1305.1 1407.0,1300.6 C1410.2,1296.2 1412.1,1290.4 1414.0,1283.8 C1415.9,1277.2 1416.9,1260.9 1418.6,1261.0 C1420.3,1261.2 1421.9,1277.2 1424.0,1284.8 C1426.1,1292.4 1427.5,1300.6 1431.0,1306.5 C1434.5,1312.5 1439.3,1316.8 1445.0,1320.4 C1450.7,1324.0 1455.8,1326.6 1465.0,1328.3 C1474.2,1329.9 1442.5,1329.8 1500.0,1330.3 C1557.5,1330.8 1756.3,1329.9 1810.0,1331.3 C1863.7,1332.6 1817.0,1335.4 1822.0,1338.2 C1827.0,1341.0 1816.3,1346.1 1840.0,1348.1 C1863.7,1350.1 1943.3,1349.7 1964.0,1350.1" stroke="#0a7a0c" stroke-width="9" stroke-dasharray="50 24 9 28" stroke-dashoffset="0" stroke-linecap="butt"/><path d="M330.0,1290.0 C331.1,1286.0 334.3,1276.2 336.5,1266.0 C338.7,1255.8 340.6,1243.0 343.0,1229.0 C345.4,1215.0 348.6,1199.3 351.0,1182.0 C353.4,1164.7 355.0,1145.0 357.5,1125.0 C360.0,1105.0 363.8,1080.8 366.0,1062.0 C368.2,1043.2 368.9,1030.0 370.7,1012.0 C372.4,994.0 374.4,973.5 376.5,954.0 C378.6,934.5 380.9,917.7 383.3,895.0 C385.7,872.3 388.2,843.8 391.1,818.0 C394.0,792.2 397.9,760.2 400.8,740.0 C403.7,719.8 406.5,710.3 408.4,697.0 C410.3,683.7 410.8,672.2 412.0,660.0 C413.2,647.8 414.3,636.0 415.7,624.0 C417.1,612.0 418.7,598.7 420.2,588.0 C421.7,577.3 422.8,569.2 424.8,560.0 C426.8,550.8 429.5,541.3 432.0,533.0 C434.5,524.7 437.0,516.0 440.0,510.0 C443.0,504.0 446.3,500.0 450.0,497.0 C453.7,494.0 457.8,493.2 462.0,492.0 C466.2,490.8 470.4,490.9 475.0,490.0 C479.6,489.1 485.0,489.8 489.4,486.8 C493.8,483.9 497.4,476.8 501.5,472.3 C505.6,467.9 509.7,464.2 513.7,460.1 C517.8,456.1 521.8,452.1 525.8,448.0 C529.8,443.9 534.0,439.9 538.0,435.8 C542.0,431.8 546.1,426.9 550.1,423.7 C554.1,420.5 558.2,418.0 562.3,416.4 C566.3,414.8 570.9,413.4 574.4,414.0 C577.9,414.6 579.9,417.4 583.0,420.0 C586.1,422.6 589.0,423.8 592.8,429.5 C596.6,435.2 601.0,445.9 605.9,454.1 C610.8,462.3 617.4,471.6 622.3,478.7 C627.2,485.8 630.9,491.8 635.5,496.7 C640.1,501.6 645.0,505.7 650.2,508.2 C655.4,510.7 662.0,510.5 666.6,511.5 C671.2,512.5 674.0,515.9 678.1,514.0 C682.2,512.1 686.4,507.2 691.3,500.0 C696.2,492.8 702.2,480.9 707.7,470.5 C713.2,460.1 718.6,448.1 724.1,437.7 C729.6,427.3 735.9,416.9 740.5,408.1 C745.1,399.3 747.8,393.8 752.0,385.0 C756.2,376.2 760.3,364.4 765.6,355.2 C770.9,346.0 777.7,336.4 783.8,329.7 C789.9,323.0 795.9,320.0 802.0,315.1 C808.1,310.2 814.2,304.4 820.3,300.5 C826.4,296.6 832.4,294.4 838.5,291.4 C844.6,288.4 850.6,285.9 856.7,282.3 C862.8,278.7 868.9,273.0 875.0,269.6 C881.1,266.2 887.1,263.4 893.2,262.0 C899.3,260.6 904.2,260.8 911.4,261.0 C918.6,261.2 929.3,263.1 936.5,263.0 C943.7,262.9 948.6,261.1 954.7,260.4 C960.8,259.7 967.7,258.3 972.9,258.6 C978.1,258.9 981.8,259.9 985.7,262.3 C989.7,264.7 993.6,268.4 996.6,273.2 C999.6,278.0 1001.2,285.3 1003.9,291.4 C1006.6,297.5 1010.0,303.6 1013.0,309.7 C1016.0,315.8 1019.2,321.5 1022.2,327.9 C1025.2,334.3 1028.3,341.0 1031.3,348.0 C1034.3,355.0 1037.4,362.1 1040.4,369.8 C1043.4,377.5 1046.2,384.1 1049.5,394.0 C1052.8,403.9 1056.7,418.9 1060.3,429.3 C1063.9,439.7 1067.6,447.5 1071.3,456.6 C1075.0,465.7 1078.2,474.9 1082.2,484.0 C1086.2,493.1 1090.8,503.7 1095.0,511.3 C1099.2,518.9 1103.2,523.5 1107.7,529.6 C1112.2,535.7 1118.0,542.0 1122.3,547.8 C1126.6,553.6 1130.3,558.8 1133.3,564.2 C1136.2,569.6 1138.0,574.5 1140.0,580.0 C1142.0,585.5 1143.5,589.6 1145.0,597.0 C1146.5,604.4 1147.4,613.5 1149.3,624.1 C1151.2,634.7 1154.2,648.4 1156.6,660.5 C1159.0,672.6 1161.8,684.8 1163.9,697.0 C1166.0,709.2 1167.8,723.0 1169.3,733.5 C1170.8,744.0 1171.0,749.8 1173.0,760.0 C1175.0,770.2 1178.5,779.8 1181.0,794.7 C1183.5,809.6 1185.9,831.2 1188.3,849.4 C1190.7,867.6 1193.2,885.9 1195.6,904.1 C1198.0,922.3 1200.5,942.1 1202.9,958.8 C1205.3,975.5 1208.1,990.9 1210.2,1004.4 C1212.3,1017.9 1213.6,1025.7 1215.7,1040.0 C1217.8,1054.3 1220.0,1072.0 1223.0,1090.0 C1226.0,1108.0 1229.8,1130.0 1234.0,1148.0 C1238.2,1166.0 1243.0,1183.0 1248.0,1198.0 C1253.0,1213.0 1258.0,1226.3 1264.0,1238.0 C1270.0,1249.7 1277.0,1259.0 1284.0,1268.0 C1291.0,1277.0 1297.7,1285.5 1306.0,1292.0 C1314.3,1298.5 1323.7,1303.3 1334.0,1307.0 C1344.3,1310.7 1358.3,1312.8 1368.0,1314.0 C1377.7,1315.2 1385.7,1315.3 1392.0,1314.0 C1398.3,1312.7 1402.3,1309.8 1406.0,1306.0 C1409.7,1302.2 1411.9,1296.2 1414.0,1291.0 C1416.1,1285.8 1416.9,1274.8 1418.6,1274.6 C1420.3,1274.4 1422.1,1284.4 1424.0,1290.0 C1425.9,1295.6 1427.0,1302.7 1430.0,1308.0 C1433.0,1313.3 1437.0,1318.5 1442.0,1322.0 C1447.0,1325.5 1450.3,1327.7 1460.0,1329.0 C1469.7,1330.3 1441.7,1329.8 1500.0,1330.0 C1558.3,1330.2 1756.3,1328.8 1810.0,1330.0 C1863.7,1331.2 1817.0,1334.2 1822.0,1337.0 C1827.0,1339.8 1816.3,1344.8 1840.0,1347.0 C1863.7,1349.2 1943.3,1349.5 1964.0,1350.0" stroke="#f58216" stroke-width="9"/><path d="M330.0,1290.5 C331.1,1286.5 334.3,1276.7 336.5,1266.6 C338.7,1256.5 340.6,1243.8 343.0,1229.9 C345.4,1216.0 348.6,1200.4 351.0,1183.2 C353.4,1166.0 355.0,1146.5 357.5,1126.6 C360.0,1106.8 363.8,1082.8 366.0,1064.1 C368.2,1045.3 368.9,1032.3 370.7,1014.4 C372.4,996.5 374.4,976.2 376.5,956.8 C378.6,937.4 380.9,920.7 383.3,898.2 C385.7,875.7 388.2,847.4 391.1,821.8 C394.0,796.1 397.9,764.3 400.8,744.3 C403.7,724.3 406.5,714.8 408.4,701.6 C410.3,688.4 410.8,676.9 412.0,664.9 C413.2,652.8 414.3,641.0 415.7,629.1 C417.1,617.2 418.7,604.0 420.2,593.4 C421.7,582.8 422.8,574.7 424.8,565.6 C426.8,556.5 429.5,547.0 432.0,538.8 C434.5,530.5 437.0,521.9 440.0,515.9 C443.0,510.0 446.3,506.0 450.0,503.0 C453.7,500.0 457.8,499.2 462.0,498.0 C466.2,496.9 470.4,496.9 475.0,496.1 C479.6,495.2 485.0,495.8 489.4,492.9 C493.8,489.9 497.4,482.9 501.5,478.5 C505.6,474.1 509.7,470.4 513.7,466.4 C517.8,462.3 521.8,458.4 525.8,454.3 C529.8,450.3 534.0,446.3 538.0,442.2 C542.0,438.2 546.1,433.4 550.1,430.2 C554.1,427.0 558.2,424.6 562.3,423.0 C566.3,421.4 570.9,420.0 574.4,420.6 C577.9,421.2 579.9,424.0 583.0,426.5 C586.1,429.1 589.0,430.3 592.8,436.0 C596.6,441.6 601.0,452.3 605.9,460.4 C610.8,468.5 617.4,477.8 622.3,484.8 C627.2,491.9 630.9,497.8 635.5,502.7 C640.1,507.6 645.0,511.7 650.2,514.1 C655.4,516.6 662.0,516.4 666.6,517.4 C671.2,518.4 674.0,521.8 678.1,519.9 C682.2,518.0 686.4,513.2 691.3,506.0 C696.2,498.8 702.2,487.0 707.7,476.7 C713.2,466.4 718.6,454.4 724.1,444.1 C729.6,433.8 735.9,423.5 740.5,414.7 C745.1,406.0 747.8,400.5 752.0,391.8 C756.2,383.0 760.3,371.4 765.6,362.2 C770.9,353.0 777.7,343.5 783.8,336.9 C789.9,330.2 795.9,327.2 802.0,322.4 C808.1,317.5 814.2,311.8 820.3,307.9 C826.4,304.0 832.4,301.9 838.5,298.8 C844.6,295.8 850.6,293.4 856.7,289.8 C862.8,286.2 868.9,280.6 875.0,277.2 C881.1,273.8 887.1,271.1 893.2,269.7 C899.3,268.2 904.2,268.5 911.4,268.7 C918.6,268.8 929.3,270.7 936.5,270.6 C943.7,270.5 948.6,268.8 954.7,268.1 C960.8,267.3 967.7,266.0 972.9,266.3 C978.1,266.6 981.8,267.5 985.7,269.9 C989.7,272.4 993.6,276.0 996.6,280.8 C999.6,285.6 1001.2,292.8 1003.9,298.8 C1006.6,304.9 1010.0,311.0 1013.0,317.0 C1016.0,323.1 1019.2,328.8 1022.2,335.1 C1025.2,341.4 1028.3,348.1 1031.3,355.0 C1034.3,362.0 1037.4,369.1 1040.4,376.7 C1043.4,384.3 1046.2,390.9 1049.5,400.7 C1052.8,410.6 1056.7,425.4 1060.3,435.8 C1063.9,446.1 1067.6,453.8 1071.3,462.9 C1075.0,471.9 1078.2,481.0 1082.2,490.1 C1086.2,499.1 1090.8,509.7 1095.0,517.2 C1099.2,524.8 1103.2,529.3 1107.7,535.4 C1112.2,541.4 1118.0,547.7 1122.3,553.5 C1126.6,559.2 1130.3,564.4 1133.3,569.7 C1136.2,575.1 1138.0,580.0 1140.0,585.4 C1142.0,590.9 1143.5,595.0 1145.0,602.3 C1146.5,609.6 1147.4,618.7 1149.3,629.2 C1151.2,639.7 1154.2,653.3 1156.6,665.4 C1159.0,677.4 1161.8,689.5 1163.9,701.6 C1166.0,713.7 1167.8,727.4 1169.3,737.9 C1170.8,748.3 1171.0,754.0 1173.0,764.2 C1175.0,774.3 1178.5,783.8 1181.0,798.6 C1183.5,813.4 1185.9,834.8 1188.3,852.9 C1190.7,871.0 1193.2,889.2 1195.6,907.3 C1198.0,925.4 1200.5,945.0 1202.9,961.6 C1205.3,978.2 1208.1,993.4 1210.2,1006.9 C1212.3,1020.3 1213.6,1028.0 1215.7,1042.2 C1217.8,1056.4 1220.0,1074.0 1223.0,1091.9 C1226.0,1109.7 1229.8,1131.6 1234.0,1149.4 C1238.2,1167.3 1243.0,1184.2 1248.0,1199.1 C1253.0,1214.0 1258.0,1227.2 1264.0,1238.8 C1270.0,1250.4 1277.0,1259.7 1284.0,1268.6 C1291.0,1277.5 1297.7,1286.0 1306.0,1292.4 C1314.3,1298.9 1323.7,1303.7 1334.0,1307.3 C1344.3,1311.0 1358.3,1313.1 1368.0,1314.3 C1377.7,1315.4 1385.7,1315.6 1392.0,1314.3 C1398.3,1313.0 1402.3,1310.1 1406.0,1306.3 C1409.7,1302.5 1411.9,1296.6 1414.0,1291.4 C1416.1,1286.3 1416.9,1275.3 1418.6,1275.2 C1420.3,1275.0 1422.1,1284.9 1424.0,1290.5 C1425.9,1296.0 1427.0,1303.0 1430.0,1308.3 C1433.0,1313.6 1437.0,1318.8 1442.0,1322.2 C1447.0,1325.7 1450.3,1327.9 1460.0,1329.2 C1469.7,1330.5 1441.7,1330.0 1500.0,1330.2 C1558.3,1330.3 1756.3,1329.0 1810.0,1330.2 C1863.7,1331.3 1817.0,1334.3 1822.0,1337.1 C1827.0,1339.9 1816.3,1344.9 1840.0,1347.1 C1863.7,1349.2 1943.3,1349.5 1964.0,1350.0" stroke="#f58216" stroke-width="9" stroke-dasharray="50 24 9 28" stroke-dashoffset="0" stroke-linecap="butt"/><path d="M330.0,1320.0 C330.5,1317.3 331.0,1312.9 333.0,1304.0 C335.0,1295.1 338.8,1279.1 342.0,1266.6 C345.2,1254.1 348.8,1243.0 352.0,1228.9 C355.2,1214.8 358.0,1199.1 361.0,1181.8 C364.0,1164.5 367.2,1145.6 370.0,1125.3 C372.8,1105.0 376.0,1078.9 378.0,1060.0 C380.0,1041.1 379.8,1029.7 382.0,1012.0 C384.2,994.3 387.5,970.2 391.0,954.0 C394.5,937.8 399.2,928.0 402.8,915.0 C406.4,902.0 408.6,892.3 412.5,876.1 C416.4,859.9 421.6,834.0 426.1,817.8 C430.6,801.6 435.5,789.9 439.7,778.9 C443.9,767.9 446.6,757.8 451.4,751.7 C456.2,745.7 463.3,747.8 468.6,742.6 C473.9,737.4 478.9,728.3 483.1,720.7 C487.4,713.1 490.5,702.8 494.1,697.0 C497.8,691.2 500.7,688.5 505.0,686.0 C509.3,683.5 514.9,682.2 520.0,682.1 C525.1,682.0 531.1,683.2 535.8,685.3 C540.5,687.4 544.2,690.6 548.4,694.8 C552.6,699.0 556.6,705.3 561.1,710.6 C565.6,715.9 570.3,720.9 575.3,726.4 C580.3,731.9 585.8,738.5 591.1,743.7 C596.4,749.0 602.4,754.7 606.9,757.9 C611.4,761.1 613.4,762.7 617.9,762.7 C622.4,762.7 628.4,760.8 633.7,757.9 C639.0,755.0 644.8,750.5 649.5,745.3 C654.2,740.0 657.9,733.5 662.1,726.4 C666.3,719.3 670.6,710.6 674.8,702.7 C679.0,694.8 683.2,686.6 687.4,679.0 C691.6,671.4 696.3,663.8 700.0,656.9 C703.7,650.0 705.8,645.3 709.5,637.9 C713.2,630.5 717.9,621.0 722.1,612.6 C726.3,604.2 731.0,595.8 734.8,587.4 C738.6,579.0 742.1,571.6 745.0,562.0 C747.9,552.4 748.5,539.8 752.0,530.0 C755.5,520.2 761.3,511.2 766.0,503.0 C770.7,494.8 775.2,487.8 780.0,481.0 C784.8,474.2 790.0,467.7 795.0,462.0 C800.0,456.3 805.0,451.4 810.0,447.0 C815.0,442.6 820.0,439.2 825.0,435.5 C830.0,431.8 835.0,428.4 840.0,425.0 C845.0,421.6 850.2,418.3 855.0,415.0 C859.8,411.7 864.2,408.1 869.0,405.0 C873.8,401.9 879.0,398.7 884.0,396.5 C889.0,394.3 892.7,393.2 899.0,392.0 C905.3,390.8 914.5,389.5 922.0,389.0 C929.5,388.5 938.0,389.1 944.0,389.0 C950.0,388.9 952.8,387.8 958.0,388.5 C963.2,389.2 969.8,390.9 975.0,393.5 C980.2,396.1 984.6,399.0 989.0,404.4 C993.4,409.8 997.3,418.1 1001.5,426.0 C1005.7,433.9 1009.5,442.3 1014.0,451.5 C1018.5,460.7 1024.2,471.8 1028.5,481.0 C1032.8,490.2 1035.8,497.1 1039.5,506.5 C1043.2,515.9 1046.8,527.5 1050.5,537.5 C1054.2,547.5 1057.8,557.3 1061.5,566.7 C1065.2,576.1 1068.8,584.9 1072.5,594.0 C1076.2,603.1 1079.6,613.0 1083.5,621.5 C1087.4,630.0 1092.4,638.9 1096.0,645.0 C1099.6,651.1 1101.0,652.8 1105.0,658.0 C1109.0,663.2 1115.7,669.3 1120.0,676.0 C1124.3,682.7 1127.7,690.3 1131.0,698.0 C1134.3,705.7 1137.8,715.0 1140.0,722.0 C1142.2,729.0 1141.9,729.4 1144.5,740.0 C1147.1,750.6 1152.2,770.4 1155.5,785.6 C1158.8,800.8 1161.5,816.0 1164.5,831.2 C1167.5,846.4 1170.5,861.5 1173.5,876.7 C1176.5,891.9 1179.5,907.1 1182.5,922.3 C1185.5,937.5 1188.5,952.7 1191.5,967.9 C1194.5,983.1 1198.2,1001.5 1200.5,1013.5 C1202.8,1025.5 1203.4,1027.2 1205.0,1040.0 C1206.6,1052.8 1207.5,1073.3 1210.0,1090.0 C1212.5,1106.7 1216.3,1123.3 1220.0,1140.0 C1223.7,1156.7 1227.7,1175.0 1232.0,1190.0 C1236.3,1205.0 1241.0,1217.3 1246.0,1230.0 C1251.0,1242.7 1256.0,1255.3 1262.0,1266.0 C1268.0,1276.7 1275.3,1286.7 1282.0,1294.0 C1288.7,1301.3 1294.3,1305.7 1302.0,1310.0 C1309.7,1314.3 1318.3,1317.5 1328.0,1320.0 C1337.7,1322.5 1349.7,1324.2 1360.0,1325.0 C1370.3,1325.8 1382.3,1325.3 1390.0,1325.0 C1397.7,1324.7 1402.2,1325.8 1406.0,1323.0 C1409.8,1320.2 1410.7,1312.8 1412.6,1308.0 C1414.5,1303.2 1415.9,1293.7 1417.6,1294.0 C1419.3,1294.3 1420.5,1303.2 1422.6,1310.0 C1424.7,1316.8 1426.2,1328.2 1430.0,1335.0 C1433.8,1341.8 1440.6,1349.2 1445.6,1351.0 C1450.6,1352.8 1455.4,1347.0 1460.0,1346.0 C1464.6,1345.0 1466.6,1345.2 1473.3,1345.2 C1480.0,1345.2 1490.3,1345.8 1500.0,1346.0 C1509.7,1346.2 1515.2,1346.6 1531.7,1346.7 C1548.2,1346.8 1570.8,1346.7 1598.8,1346.7 C1626.8,1346.8 1663.8,1347.0 1700.0,1347.0 C1736.2,1347.0 1792.5,1346.5 1816.0,1347.0 C1839.5,1347.5 1816.3,1349.3 1841.0,1350.0 C1865.7,1350.7 1943.5,1350.8 1964.0,1351.0" stroke="#808080" stroke-width="9"/><path d="M330.0,1319.0 C330.5,1316.5 331.2,1312.7 333.0,1304.0 C334.8,1295.3 338.0,1279.1 341.0,1266.6 C344.0,1254.1 347.8,1243.0 351.0,1228.9 C354.2,1214.8 357.1,1199.1 360.0,1181.8 C362.9,1164.5 365.8,1145.6 368.5,1125.3 C371.2,1105.0 374.1,1078.9 376.0,1060.0 C377.9,1041.1 377.9,1029.7 380.0,1012.0 C382.1,994.3 385.5,972.7 388.5,954.0 C391.5,935.3 394.8,917.3 398.0,900.0 C401.2,882.7 404.7,865.0 408.0,850.0 C411.3,835.0 414.0,826.1 418.0,810.0 C422.0,793.9 427.4,765.8 432.1,753.5 C436.8,741.2 441.1,741.5 446.0,736.0 C450.9,730.5 456.3,727.2 461.3,720.7 C466.3,714.2 471.1,703.0 475.9,697.0 C480.7,691.0 485.1,689.0 490.0,685.0 C494.9,681.0 500.0,676.4 505.0,673.0 C510.0,669.6 514.9,666.7 520.0,664.8 C525.1,662.9 529.8,658.0 535.8,661.6 C541.8,665.2 549.7,678.5 556.3,686.1 C562.9,693.7 568.0,700.9 575.3,707.4 C582.6,713.9 592.1,719.5 600.0,725.0 C607.9,730.5 615.2,740.1 622.7,740.6 C630.2,741.1 638.2,735.0 644.8,727.9 C651.4,720.8 656.2,709.2 662.1,697.9 C668.0,686.6 674.2,672.6 680.0,660.0 C685.8,647.4 692.0,633.4 696.9,622.1 C701.8,610.8 704.2,604.2 709.5,592.1 C714.8,580.0 723.4,561.5 728.5,549.5 C733.6,537.5 736.1,530.2 740.0,520.0 C743.9,509.8 745.6,500.4 751.7,488.3 C757.8,476.2 768.4,458.4 776.4,447.5 C784.4,436.6 791.3,430.2 799.8,422.7 C808.3,415.2 819.1,407.8 827.5,402.3 C835.9,396.9 842.7,393.9 850.0,390.0 C857.3,386.1 863.1,382.6 871.2,379.0 C879.4,375.4 889.7,369.7 898.9,368.7 C908.1,367.7 918.1,371.9 926.6,373.1 C935.1,374.3 942.6,375.1 950.0,376.0 C957.4,376.9 963.9,374.8 971.0,378.2 C978.1,381.6 987.2,389.5 992.9,396.5 C998.6,403.5 1001.1,411.1 1005.0,420.0 C1008.9,428.9 1011.8,440.0 1016.0,450.0 C1020.2,460.0 1025.8,470.7 1030.0,480.0 C1034.2,489.3 1037.3,496.5 1041.0,506.0 C1044.7,515.5 1048.3,527.0 1052.0,537.0 C1055.7,547.0 1059.3,556.5 1063.0,566.0 C1066.7,575.5 1070.3,584.8 1074.0,594.0 C1077.7,603.2 1081.2,612.5 1085.0,621.0 C1088.8,629.5 1093.5,638.8 1097.0,645.0 C1100.5,651.2 1102.0,652.7 1106.0,658.0 C1110.0,663.3 1116.7,670.2 1121.0,677.0 C1125.3,683.8 1128.7,691.3 1132.0,699.0 C1135.3,706.7 1138.8,716.2 1141.0,723.0 C1143.2,729.8 1142.9,729.6 1145.5,740.0 C1148.1,750.4 1153.2,770.4 1156.5,785.6 C1159.8,800.8 1162.5,816.0 1165.5,831.2 C1168.5,846.4 1171.5,861.5 1174.5,876.7 C1177.5,891.9 1180.5,907.1 1183.5,922.3 C1186.5,937.5 1189.5,952.7 1192.5,967.9 C1195.5,983.1 1199.2,1001.5 1201.5,1013.5 C1203.8,1025.5 1204.4,1027.2 1206.0,1040.0 C1207.6,1052.8 1208.5,1073.3 1211.0,1090.0 C1213.5,1106.7 1217.3,1123.3 1221.0,1140.0 C1224.7,1156.7 1228.7,1175.0 1233.0,1190.0 C1237.3,1205.0 1242.0,1217.3 1247.0,1230.0 C1252.0,1242.7 1257.0,1255.3 1263.0,1266.0 C1269.0,1276.7 1276.3,1286.7 1283.0,1294.0 C1289.7,1301.3 1295.3,1305.7 1303.0,1310.0 C1310.7,1314.3 1319.5,1317.5 1329.0,1320.0 C1338.5,1322.5 1349.8,1324.2 1360.0,1325.0 C1370.2,1325.8 1382.3,1325.3 1390.0,1325.0 C1397.7,1324.7 1402.2,1325.8 1406.0,1323.0 C1409.8,1320.2 1410.7,1312.8 1412.6,1308.0 C1414.5,1303.2 1415.9,1293.7 1417.6,1294.0 C1419.3,1294.3 1420.5,1303.2 1422.6,1310.0 C1424.7,1316.8 1426.2,1328.3 1430.0,1335.0 C1433.8,1341.7 1440.6,1348.2 1445.6,1350.0 C1450.6,1351.8 1455.4,1346.7 1460.0,1346.0 C1464.6,1345.3 1466.6,1346.0 1473.3,1346.0 C1480.0,1346.0 1490.3,1345.8 1500.0,1346.0 C1509.7,1346.2 1515.2,1346.8 1531.7,1347.0 C1548.2,1347.2 1570.8,1347.0 1598.8,1347.0 C1626.8,1347.0 1663.8,1347.0 1700.0,1347.0 C1736.2,1347.0 1792.5,1346.5 1816.0,1347.0 C1839.5,1347.5 1816.3,1349.3 1841.0,1350.0 C1865.7,1350.7 1943.5,1350.8 1964.0,1351.0" stroke="#808080" stroke-width="9" stroke-dasharray="51 25 9 29" stroke-dashoffset="17.7" stroke-linecap="butt"/><path d="M330.0,1319.0 C330.4,1316.5 330.4,1312.7 332.2,1304.0 C334.0,1295.3 337.7,1279.1 340.7,1266.6 C343.7,1254.1 347.1,1243.0 350.1,1228.9 C353.1,1214.8 355.8,1199.1 358.6,1181.8 C361.4,1164.5 364.4,1145.6 367.1,1125.3 C369.8,1105.0 372.7,1078.9 374.6,1060.0 C376.5,1041.1 376.6,1029.7 378.5,1012.0 C380.4,994.3 383.1,973.4 386.2,954.0 C389.3,934.6 393.2,918.2 396.9,895.5 C400.6,872.8 405.4,837.0 408.6,817.8 C411.8,798.5 413.4,793.0 416.0,780.0 C418.6,767.0 422.3,749.3 424.1,740.0 C425.9,730.7 425.3,730.6 426.6,724.4 C427.9,718.1 429.4,707.7 432.1,702.5 C434.8,697.3 439.1,696.4 443.0,693.4 C446.9,690.4 451.5,684.8 455.8,684.2 C460.1,683.6 464.7,689.7 468.6,689.7 C472.6,689.7 475.9,687.9 479.5,684.2 C483.1,680.6 486.1,673.6 490.4,667.8 C494.6,662.0 499.8,654.5 505.0,649.6 C510.2,644.8 515.7,641.7 521.4,638.7 C527.1,635.7 533.4,632.6 539.0,631.6 C544.6,630.6 550.3,632.2 555.0,633.0 C559.7,633.8 562.7,633.4 567.4,636.3 C572.1,639.2 577.9,645.6 583.2,650.6 C588.5,655.6 593.7,661.0 599.0,666.3 C604.3,671.5 609.5,677.4 614.8,682.1 C620.0,686.9 625.2,692.2 630.5,694.8 C635.8,697.4 641.5,698.4 646.3,697.9 C651.0,697.4 653.7,695.3 659.0,691.6 C664.3,687.9 672.1,682.1 677.9,675.8 C683.7,669.5 689.0,661.1 693.7,653.7 C698.5,646.3 702.2,639.0 706.4,631.6 C710.6,624.2 714.8,616.9 719.0,609.5 C723.2,602.1 727.4,595.0 731.6,587.4 C735.8,579.8 740.5,572.9 744.3,563.7 C748.1,554.5 750.5,541.6 754.6,532.0 C758.8,522.4 764.4,513.8 769.2,505.8 C774.1,497.8 778.9,490.7 783.7,483.9 C788.6,477.1 793.4,470.6 798.3,465.0 C803.2,459.4 808.0,454.8 812.9,450.4 C817.8,446.0 822.6,442.3 827.5,438.7 C832.4,435.1 837.2,431.9 842.1,428.5 C847.0,425.1 851.8,421.7 856.6,418.3 C861.5,414.9 866.3,411.2 871.2,408.1 C876.1,405.0 880.9,401.6 885.8,399.4 C890.7,397.2 894.3,396.2 900.4,395.0 C906.5,393.8 914.9,392.6 922.2,392.1 C929.5,391.6 938.1,392.3 944.1,392.1 C950.1,391.9 952.8,390.3 958.2,391.0 C963.6,391.7 971.0,393.8 976.5,396.5 C982.0,399.2 986.5,401.9 991.0,407.4 C995.5,412.9 999.5,421.4 1003.8,429.3 C1008.1,437.2 1012.0,445.7 1016.6,454.8 C1021.2,463.9 1027.0,474.9 1031.2,484.0 C1035.5,493.1 1038.5,500.1 1042.1,509.5 C1045.7,518.9 1049.3,530.5 1053.0,540.5 C1056.7,550.5 1060.3,560.3 1064.0,569.7 C1067.7,579.1 1071.2,587.9 1074.9,597.0 C1078.6,606.1 1082.0,615.9 1085.9,624.4 C1089.9,632.9 1095.0,642.1 1098.6,648.1 C1102.2,654.1 1103.4,655.4 1107.3,660.5 C1111.2,665.6 1117.6,672.1 1121.9,678.8 C1126.2,685.5 1129.6,693.1 1132.9,700.7 C1136.2,708.3 1139.8,717.9 1142.0,724.4 C1144.2,730.9 1143.9,729.8 1146.4,740.0 C1149.0,750.2 1154.0,770.4 1157.3,785.6 C1160.6,800.8 1163.5,816.0 1166.5,831.2 C1169.5,846.4 1172.6,861.5 1175.6,876.7 C1178.6,891.9 1181.7,907.1 1184.7,922.3 C1187.7,937.5 1190.8,952.7 1193.8,967.9 C1196.8,983.1 1200.7,1001.5 1202.9,1013.5 C1205.1,1025.5 1205.5,1027.2 1207.0,1040.0 C1208.5,1052.8 1209.6,1073.4 1212.1,1090.1 C1214.6,1106.8 1218.4,1123.6 1222.1,1140.3 C1225.8,1157.0 1229.8,1175.4 1234.1,1190.4 C1238.4,1205.4 1243.2,1217.8 1248.2,1230.5 C1253.2,1243.2 1258.2,1255.9 1264.2,1266.6 C1270.2,1277.3 1277.5,1287.2 1284.2,1294.6 C1290.9,1301.9 1296.6,1306.3 1304.3,1310.7 C1312.0,1315.1 1321.1,1318.4 1330.4,1320.7 C1339.8,1323.0 1350.4,1324.0 1360.4,1324.7 C1370.4,1325.4 1382.8,1325.0 1390.5,1324.7 C1398.2,1324.4 1402.8,1325.7 1406.5,1322.7 C1410.2,1319.7 1410.8,1312.1 1412.6,1306.7 C1414.4,1301.3 1415.9,1290.6 1417.6,1290.6 C1419.3,1290.6 1420.8,1300.7 1422.6,1306.7 C1424.4,1312.7 1425.5,1321.5 1428.6,1326.7 C1431.7,1331.9 1434.8,1336.5 1441.3,1337.9 C1447.8,1339.3 1458.3,1335.5 1467.5,1335.0 C1476.7,1334.5 1487.0,1334.5 1496.7,1335.0 C1506.4,1335.5 1511.2,1336.9 1525.8,1337.9 C1540.4,1338.9 1558.5,1340.3 1584.2,1340.8 C1609.9,1341.3 1641.4,1340.9 1680.0,1340.8 C1718.6,1340.7 1791.7,1339.6 1816.0,1340.0 C1840.3,1340.4 1821.8,1341.5 1826.0,1343.0 C1830.2,1344.5 1818.0,1347.8 1841.0,1349.0 C1864.0,1350.2 1943.5,1350.2 1964.0,1350.5" stroke="#800080" stroke-width="9"/><path d="M330.0,1319.1 C330.4,1316.7 330.4,1312.9 332.2,1304.2 C334.0,1295.5 337.7,1279.4 340.7,1267.0 C343.7,1254.5 347.1,1243.5 350.1,1229.4 C353.1,1215.3 355.8,1199.7 358.6,1182.5 C361.4,1165.3 364.4,1146.4 367.1,1126.2 C369.8,1106.0 372.7,1080.0 374.6,1061.2 C376.5,1042.4 376.6,1031.0 378.5,1013.4 C380.4,995.8 383.1,974.9 386.2,955.6 C389.3,936.3 393.2,919.9 396.9,897.3 C400.6,874.7 405.4,839.1 408.6,819.9 C411.8,800.8 413.4,795.2 416.0,782.3 C418.6,769.4 422.3,751.7 424.1,742.5 C425.9,733.2 425.3,733.1 426.6,726.9 C427.9,720.7 429.4,710.3 432.1,705.1 C434.8,700.0 439.1,699.1 443.0,696.0 C446.9,693.0 451.5,687.5 455.8,686.9 C460.1,686.3 464.7,692.4 468.6,692.4 C472.6,692.4 475.9,690.5 479.5,686.9 C483.1,683.2 486.1,676.3 490.4,670.5 C494.6,664.8 499.8,657.3 505.0,652.4 C510.2,647.6 515.7,644.6 521.4,641.6 C527.1,638.6 533.4,635.4 539.0,634.5 C544.6,633.5 550.3,635.1 555.0,635.9 C559.7,636.7 562.7,636.3 567.4,639.2 C572.1,642.1 577.9,648.4 583.2,653.4 C588.5,658.4 593.7,663.8 599.0,669.1 C604.3,674.3 609.5,680.1 614.8,684.8 C620.0,689.5 625.2,694.8 630.5,697.4 C635.8,700.1 641.5,701.1 646.3,700.5 C651.0,700.0 653.7,697.9 659.0,694.3 C664.3,690.6 672.1,684.8 677.9,678.5 C683.7,672.2 689.0,663.8 693.7,656.5 C698.5,649.2 702.2,641.8 706.4,634.5 C710.6,627.2 714.8,619.8 719.0,612.5 C723.2,605.1 727.4,598.1 731.6,590.5 C735.8,582.9 740.5,576.1 744.3,566.9 C748.1,557.7 750.5,544.9 754.6,535.3 C758.8,525.7 764.4,517.2 769.2,509.2 C774.1,501.2 778.9,494.2 783.7,487.4 C788.6,480.6 793.4,474.1 798.3,468.6 C803.2,463.0 808.0,458.4 812.9,454.0 C817.8,449.7 822.6,446.0 827.5,442.4 C832.4,438.7 837.2,435.6 842.1,432.2 C847.0,428.8 851.8,425.4 856.6,422.0 C861.5,418.7 866.3,415.0 871.2,411.9 C876.1,408.8 880.9,405.4 885.8,403.2 C890.7,401.0 894.3,400.1 900.4,398.8 C906.5,397.6 914.9,396.4 922.2,396.0 C929.5,395.5 938.1,396.1 944.1,396.0 C950.1,395.8 952.8,394.1 958.2,394.9 C963.6,395.6 971.0,397.6 976.5,400.3 C982.0,403.1 986.5,405.7 991.0,411.2 C995.5,416.6 999.5,425.1 1003.8,433.0 C1008.1,440.9 1012.0,449.3 1016.6,458.4 C1021.2,467.5 1027.0,478.4 1031.2,487.5 C1035.5,496.6 1038.5,503.5 1042.1,512.9 C1045.7,522.3 1049.3,533.8 1053.0,543.8 C1056.7,553.8 1060.3,563.5 1064.0,572.8 C1067.7,582.2 1071.2,591.0 1074.9,600.0 C1078.6,609.1 1082.0,618.8 1085.9,627.3 C1089.9,635.8 1095.0,644.9 1098.6,650.9 C1102.2,656.9 1103.4,658.2 1107.3,663.3 C1111.2,668.4 1117.6,674.8 1121.9,681.5 C1126.2,688.2 1129.6,695.7 1132.9,703.3 C1136.2,710.9 1139.8,720.4 1142.0,726.9 C1144.2,733.4 1143.9,732.3 1146.4,742.5 C1149.0,752.6 1154.0,772.7 1157.3,787.9 C1160.6,803.0 1163.5,818.2 1166.5,833.3 C1169.5,848.4 1172.6,863.5 1175.6,878.6 C1178.6,893.7 1181.7,908.9 1184.7,924.0 C1187.7,939.2 1190.8,954.3 1193.8,969.4 C1196.8,984.6 1200.7,1002.9 1202.9,1014.9 C1205.1,1026.8 1205.5,1028.5 1207.0,1041.3 C1208.5,1054.0 1209.6,1074.5 1212.1,1091.2 C1214.6,1107.8 1218.4,1124.5 1222.1,1141.2 C1225.8,1157.8 1229.8,1176.1 1234.1,1191.1 C1238.4,1206.0 1243.2,1218.3 1248.2,1231.0 C1253.2,1243.6 1258.2,1256.3 1264.2,1267.0 C1270.2,1277.6 1277.5,1287.5 1284.2,1294.8 C1290.9,1302.2 1296.6,1306.5 1304.3,1310.9 C1312.0,1315.2 1321.1,1318.5 1330.4,1320.8 C1339.8,1323.2 1350.4,1324.2 1360.4,1324.8 C1370.4,1325.5 1382.8,1325.2 1390.5,1324.8 C1398.2,1324.5 1402.8,1325.8 1406.5,1322.8 C1410.2,1319.8 1410.8,1312.2 1412.6,1306.9 C1414.4,1301.6 1415.9,1290.9 1417.6,1290.9 C1419.3,1290.9 1420.8,1300.9 1422.6,1306.9 C1424.4,1312.9 1425.5,1321.6 1428.6,1326.8 C1431.7,1332.0 1434.8,1336.6 1441.3,1338.0 C1447.8,1339.3 1458.3,1335.6 1467.5,1335.1 C1476.7,1334.6 1487.0,1334.6 1496.7,1335.1 C1506.4,1335.6 1511.2,1337.0 1525.8,1338.0 C1540.4,1338.9 1558.5,1340.4 1584.2,1340.9 C1609.9,1341.3 1641.4,1341.0 1680.0,1340.9 C1718.6,1340.7 1791.7,1339.7 1816.0,1340.1 C1840.3,1340.4 1821.8,1341.6 1826.0,1343.0 C1830.2,1344.5 1818.0,1347.8 1841.0,1349.0 C1864.0,1350.3 1943.5,1350.3 1964.0,1350.5" stroke="#800080" stroke-width="9" stroke-dasharray="50 24 9 28" stroke-dashoffset="0" stroke-linecap="butt"/></g>
<g id="axes"><rect x="330.0" y="59.5" width="1634.0" height="1295.5" fill="none" stroke="#000" stroke-width="6.5"/><line x1="303" y1="1355.0" x2="330.0" y2="1355.0" stroke="#000" stroke-width="6.5"/><line x1="317" y1="1247.0" x2="330.0" y2="1247.0" stroke="#000" stroke-width="6.5"/><line x1="303" y1="1139.1" x2="330.0" y2="1139.1" stroke="#000" stroke-width="6.5"/><line x1="317" y1="1031.1" x2="330.0" y2="1031.1" stroke="#000" stroke-width="6.5"/><line x1="303" y1="923.2" x2="330.0" y2="923.2" stroke="#000" stroke-width="6.5"/><line x1="317" y1="815.2" x2="330.0" y2="815.2" stroke="#000" stroke-width="6.5"/><line x1="303" y1="707.2" x2="330.0" y2="707.2" stroke="#000" stroke-width="6.5"/><line x1="317" y1="599.3" x2="330.0" y2="599.3" stroke="#000" stroke-width="6.5"/><line x1="303" y1="491.3" x2="330.0" y2="491.3" stroke="#000" stroke-width="6.5"/><line x1="317" y1="383.4" x2="330.0" y2="383.4" stroke="#000" stroke-width="6.5"/><line x1="303" y1="275.4" x2="330.0" y2="275.4" stroke="#000" stroke-width="6.5"/><line x1="317" y1="167.5" x2="330.0" y2="167.5" stroke="#000" stroke-width="6.5"/><line x1="303" y1="59.5" x2="330.0" y2="59.5" stroke="#000" stroke-width="6.5"/><line x1="330.0" y1="1355.0" x2="330.0" y2="1381" stroke="#000" stroke-width="6.5"/><line x1="465.2" y1="1355.0" x2="465.2" y2="1368" stroke="#000" stroke-width="6.5"/><line x1="601.3" y1="1355.0" x2="601.3" y2="1381" stroke="#000" stroke-width="6.5"/><line x1="737.5" y1="1355.0" x2="737.5" y2="1368" stroke="#000" stroke-width="6.5"/><line x1="873.7" y1="1355.0" x2="873.7" y2="1381" stroke="#000" stroke-width="6.5"/><line x1="1009.8" y1="1355.0" x2="1009.8" y2="1368" stroke="#000" stroke-width="6.5"/><line x1="1146.0" y1="1355.0" x2="1146.0" y2="1381" stroke="#000" stroke-width="6.5"/><line x1="1282.2" y1="1355.0" x2="1282.2" y2="1368" stroke="#000" stroke-width="6.5"/><line x1="1418.3" y1="1355.0" x2="1418.3" y2="1381" stroke="#000" stroke-width="6.5"/><line x1="1554.5" y1="1355.0" x2="1554.5" y2="1368" stroke="#000" stroke-width="6.5"/><line x1="1690.7" y1="1355.0" x2="1690.7" y2="1381" stroke="#000" stroke-width="6.5"/><line x1="1826.8" y1="1355.0" x2="1826.8" y2="1368" stroke="#000" stroke-width="6.5"/><line x1="1964.0" y1="1355.0" x2="1964.0" y2="1381" stroke="#000" stroke-width="6.5"/><line x1="493.3" y1="59.5" x2="493.3" y2="72.5" stroke="#000" stroke-width="6.5"/><line x1="656.4" y1="59.5" x2="656.4" y2="85" stroke="#000" stroke-width="6.5"/><line x1="819.6" y1="59.5" x2="819.6" y2="72.5" stroke="#000" stroke-width="6.5"/><line x1="982.7" y1="59.5" x2="982.7" y2="85" stroke="#000" stroke-width="6.5"/><line x1="1145.9" y1="59.5" x2="1145.9" y2="72.5" stroke="#000" stroke-width="6.5"/><line x1="1309.1" y1="59.5" x2="1309.1" y2="85" stroke="#000" stroke-width="6.5"/><line x1="1472.2" y1="59.5" x2="1472.2" y2="72.5" stroke="#000" stroke-width="6.5"/><line x1="1635.4" y1="59.5" x2="1635.4" y2="85" stroke="#000" stroke-width="6.5"/><line x1="1798.5" y1="59.5" x2="1798.5" y2="72.5" stroke="#000" stroke-width="6.5"/><line x1="1964.0" y1="188.5" x2="1952" y2="188.5" stroke="#000" stroke-width="6.5"/><line x1="1964.0" y1="318.0" x2="1940" y2="318.0" stroke="#000" stroke-width="6.5"/><line x1="1964.0" y1="447.5" x2="1952" y2="447.5" stroke="#000" stroke-width="6.5"/><line x1="1964.0" y1="577.0" x2="1940" y2="577.0" stroke="#000" stroke-width="6.5"/><line x1="1964.0" y1="706.5" x2="1952" y2="706.5" stroke="#000" stroke-width="6.5"/><line x1="1964.0" y1="836.0" x2="1940" y2="836.0" stroke="#000" stroke-width="6.5"/><line x1="1964.0" y1="965.5" x2="1952" y2="965.5" stroke="#000" stroke-width="6.5"/><line x1="1964.0" y1="1095.0" x2="1940" y2="1095.0" stroke="#000" stroke-width="6.5"/><line x1="1964.0" y1="1224.5" x2="1952" y2="1224.5" stroke="#000" stroke-width="6.5"/></g>
<g id="labels"><text transform="translate(286,1383.5) scale(0.935,1)" text-anchor="end" font-size="104.5">0</text><text transform="translate(286,1167.6) scale(0.935,1)" text-anchor="end" font-size="104.5">10</text><text transform="translate(286,951.7) scale(0.935,1)" text-anchor="end" font-size="104.5">20</text><text transform="translate(286,735.8) scale(0.935,1)" text-anchor="end" font-size="104.5">30</text><text transform="translate(286,519.8) scale(0.935,1)" text-anchor="end" font-size="104.5">40</text><text transform="translate(286,303.9) scale(0.935,1)" text-anchor="end" font-size="104.5">50</text><text transform="translate(286,88.0) scale(0.935,1)" text-anchor="end" font-size="104.5">60</text><text transform="translate(327.5,1480) scale(0.925,1)" text-anchor="middle" font-size="106.5">300</text><text transform="translate(599.8,1480) scale(0.925,1)" text-anchor="middle" font-size="106.5">400</text><text transform="translate(872.2,1480) scale(0.925,1)" text-anchor="middle" font-size="106.5">500</text><text transform="translate(1144.5,1480) scale(0.925,1)" text-anchor="middle" font-size="106.5">600</text><text transform="translate(1416.8,1480) scale(0.925,1)" text-anchor="middle" font-size="106.5">700</text><text transform="translate(1689.2,1480) scale(0.925,1)" text-anchor="middle" font-size="106.5">800</text><text transform="translate(1961.5,1480) scale(0.925,1)" text-anchor="middle" font-size="106.5">900</text><text transform="translate(1097,1609.7) scale(0.96,1)" text-anchor="middle" font-size="113">Wavelength <tspan dx="4" font-family="'Liberation Serif', serif">λ</tspan> [nm]</text><text transform="translate(90.9,668) rotate(-90) scale(1.092,1)" text-anchor="middle" font-size="107.5">EQE [nm]</text></g>
<g id="legend"><line x1="1491" y1="96.3" x2="1633" y2="96.3" stroke="#000000" stroke-width="9"/><text transform="translate(1645,119.8) scale(0.86,1)" font-size="61" font-weight="bold" letter-spacing="4.2">130</text><text transform="translate(1759,91.8) scale(1.15,1)" font-size="32" stroke="#000" stroke-width="0.5">0</text><text transform="translate(1783.5,119.8) scale(0.84,1)" font-size="61" font-weight="bold">C</text><line x1="1491" y1="187.4" x2="1633" y2="187.4" stroke="#000000" stroke-width="9" stroke-dasharray="53 21.5 12 21.5"/><text transform="translate(1645,210.7) scale(0.86,1)" font-size="61" font-weight="bold" letter-spacing="4.2">130</text><text transform="translate(1759,182.7) scale(1.15,1)" font-size="32" stroke="#000" stroke-width="0.5">0</text><text transform="translate(1783.5,210.7) scale(0.84,1)" font-size="61" font-weight="bold">C</text><text transform="translate(1821.5,210.7) scale(0.937,1)" font-size="62" stroke="#000" stroke-width="1.2">_</text><text transform="translate(1856.5,210.7) scale(0.88,1)" font-size="61" font-weight="bold" letter-spacing="4.1">bias</text><line x1="1491" y1="278.5" x2="1633" y2="278.5" stroke="#e00c0c" stroke-width="9"/><text transform="translate(1645,301.6) scale(0.86,1)" font-size="61" font-weight="bold" letter-spacing="4.2">140</text><text transform="translate(1759,273.6) scale(1.15,1)" font-size="32" stroke="#000" stroke-width="0.5">0</text><text transform="translate(1783.5,301.6) scale(0.84,1)" font-size="61" font-weight="bold">C</text><line x1="1491" y1="369.6" x2="1633" y2="369.6" stroke="#e00c0c" stroke-width="9" stroke-dasharray="53 21.5 12 21.5"/><text transform="translate(1645,392.5) scale(0.86,1)" font-size="61" font-weight="bold" letter-spacing="4.2">140</text><text transform="translate(1759,364.5) scale(1.15,1)" font-size="32" stroke="#000" stroke-width="0.5">0</text><text transform="translate(1783.5,392.5) scale(0.84,1)" font-size="61" font-weight="bold">C</text><text transform="translate(1821.5,392.5) scale(0.937,1)" font-size="62" stroke="#000" stroke-width="1.2">_</text><text transform="translate(1856.5,392.5) scale(0.88,1)" font-size="61" font-weight="bold" letter-spacing="4.1">bias</text><line x1="1491" y1="460.7" x2="1633" y2="460.7" stroke="#0000dd" stroke-width="9"/><text transform="translate(1645,483.4) scale(0.86,1)" font-size="61" font-weight="bold" letter-spacing="4.2">150</text><text transform="translate(1759,455.4) scale(1.15,1)" font-size="32" stroke="#000" stroke-width="0.5">0</text><text transform="translate(1783.5,483.4) scale(0.84,1)" font-size="61" font-weight="bold">C</text><line x1="1491" y1="551.8" x2="1633" y2="551.8" stroke="#0000dd" stroke-width="9" stroke-dasharray="53 21.5 12 21.5"/><text transform="translate(1645,574.3) scale(0.86,1)" font-size="61" font-weight="bold" letter-spacing="4.2">150</text><text transform="translate(1759,546.3) scale(1.15,1)" font-size="32" stroke="#000" stroke-width="0.5">0</text><text transform="translate(1783.5,574.3) scale(0.84,1)" font-size="61" font-weight="bold">C</text><text transform="translate(1821.5,574.3) scale(0.937,1)" font-size="62" stroke="#000" stroke-width="1.2">_</text><text transform="translate(1856.5,574.3) scale(0.88,1)" font-size="61" font-weight="bold" letter-spacing="4.1">bias</text><line x1="1491" y1="642.9" x2="1633" y2="642.9" stroke="#0a7a0c" stroke-width="9"/><text transform="translate(1645,665.2) scale(0.86,1)" font-size="61" font-weight="bold" letter-spacing="4.2">160</text><text transform="translate(1759,637.2) scale(1.15,1)" font-size="32" stroke="#000" stroke-width="0.5">0</text><text transform="translate(1783.5,665.2) scale(0.84,1)" font-size="61" font-weight="bold">C</text><line x1="1491" y1="734.0" x2="1633" y2="734.0" stroke="#0a7a0c" stroke-width="9" stroke-dasharray="53 21.5 12 21.5"/><text transform="translate(1645,756.1) scale(0.86,1)" font-size="61" font-weight="bold" letter-spacing="4.2">160</text><text transform="translate(1759,728.1) scale(1.15,1)" font-size="32" stroke="#000" stroke-width="0.5">0</text><text transform="translate(1783.5,756.1) scale(0.84,1)" font-size="61" font-weight="bold">C</text><text transform="translate(1821.5,756.1) scale(0.937,1)" font-size="62" stroke="#000" stroke-width="1.2">_</text><text transform="translate(1856.5,756.1) scale(0.88,1)" font-size="61" font-weight="bold" letter-spacing="4.1">bias</text><line x1="1491" y1="825.1" x2="1633" y2="825.1" stroke="#f58216" stroke-width="9"/><text transform="translate(1645,847.0) scale(0.86,1)" font-size="61" font-weight="bold" letter-spacing="4.2">170</text><text transform="translate(1759,819.0) scale(1.15,1)" font-size="32" stroke="#000" stroke-width="0.5">0</text><text transform="translate(1783.5,847.0) scale(0.84,1)" font-size="61" font-weight="bold">C</text><line x1="1491" y1="916.2" x2="1633" y2="916.2" stroke="#f58216" stroke-width="9" stroke-dasharray="53 21.5 12 21.5"/><text transform="translate(1645,937.9) scale(0.86,1)" font-size="61" font-weight="bold" letter-spacing="4.2">170</text><text transform="translate(1759,909.9) scale(1.15,1)" font-size="32" stroke="#000" stroke-width="0.5">0</text><text transform="translate(1783.5,937.9) scale(0.84,1)" font-size="61" font-weight="bold">C</text><text transform="translate(1821.5,937.9) scale(0.937,1)" font-size="62" stroke="#000" stroke-width="1.2">_</text><text transform="translate(1856.5,937.9) scale(0.88,1)" font-size="61" font-weight="bold" letter-spacing="4.1">bias</text><line x1="1491" y1="1007.3" x2="1633" y2="1007.3" stroke="#808080" stroke-width="9"/><text transform="translate(1645,1028.8) scale(0.86,1)" font-size="61" font-weight="bold" letter-spacing="4.2">180</text><text transform="translate(1759,1000.8) scale(1.15,1)" font-size="32" stroke="#000" stroke-width="0.5">0</text><text transform="translate(1783.5,1028.8) scale(0.84,1)" font-size="61" font-weight="bold">C</text><line x1="1491" y1="1098.4" x2="1633" y2="1098.4" stroke="#808080" stroke-width="9" stroke-dasharray="53 21.5 12 21.5"/><text transform="translate(1645,1119.7) scale(0.86,1)" font-size="61" font-weight="bold" letter-spacing="4.2">180</text><text transform="translate(1759,1091.7) scale(1.15,1)" font-size="32" stroke="#000" stroke-width="0.5">0</text><text transform="translate(1783.5,1119.7) scale(0.84,1)" font-size="61" font-weight="bold">C</text><text transform="translate(1821.5,1119.7) scale(0.937,1)" font-size="62" stroke="#000" stroke-width="1.2">_</text><text transform="translate(1856.5,1119.7) scale(0.88,1)" font-size="61" font-weight="bold" letter-spacing="4.1">bias</text><line x1="1491" y1="1189.5" x2="1633" y2="1189.5" stroke="#800080" stroke-width="9"/><text transform="translate(1645,1210.6) scale(0.86,1)" font-size="61" font-weight="bold" letter-spacing="4.2">190</text><text transform="translate(1759,1182.6) scale(1.15,1)" font-size="32" stroke="#000" stroke-width="0.5">0</text><text transform="translate(1783.5,1210.6) scale(0.84,1)" font-size="61" font-weight="bold">C</text><line x1="1491" y1="1280.6" x2="1633" y2="1280.6" stroke="#800080" stroke-width="9" stroke-dasharray="53 21.5 12 21.5"/><text transform="translate(1645,1301.5) scale(0.86,1)" font-size="61" font-weight="bold" letter-spacing="4.2">190</text><text transform="translate(1759,1273.5) scale(1.15,1)" font-size="32" stroke="#000" stroke-width="0.5">0</text><text transform="translate(1783.5,1301.5) scale(0.84,1)" font-size="61" font-weight="bold">C</text><text transform="translate(1821.5,1301.5) scale(0.937,1)" font-size="62" stroke="#000" stroke-width="1.2">_</text><text transform="translate(1856.5,1301.5) scale(0.88,1)" font-size="61" font-weight="bold" letter-spacing="4.1">bias</text></g>
</svg>
</body></html>
